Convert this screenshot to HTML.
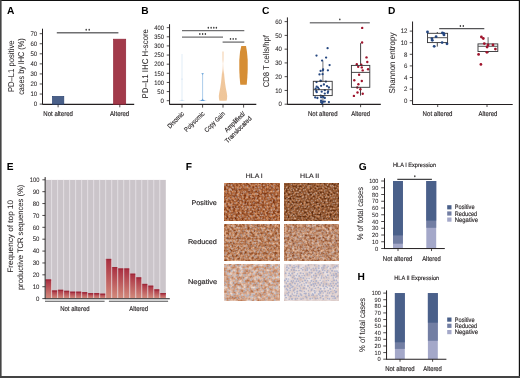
<!DOCTYPE html>
<html><head><meta charset="utf-8"><style>
html,body{margin:0;padding:0;background:#fff;}
svg{display:block;font-family:"Liberation Sans",sans-serif;will-change:transform;text-rendering:geometricPrecision;}
</style></head><body>
<svg width="520" height="378" viewBox="0 0 520 378">
<rect x="0" y="0" width="520" height="378" fill="#fff"/>
<text x="6.90" y="14.45" font-size="10.2" text-anchor="start" fill="#000" font-weight="bold">A</text>
<text x="141.20" y="14.30" font-size="10.2" text-anchor="start" fill="#000" font-weight="bold">B</text>
<text x="262.00" y="14.30" font-size="10.2" text-anchor="start" fill="#000" font-weight="bold">C</text>
<text x="387.90" y="14.30" font-size="10.2" text-anchor="start" fill="#000" font-weight="bold">D</text>
<text x="6.70" y="170.20" font-size="10.2" text-anchor="start" fill="#000" font-weight="bold">E</text>
<text x="185.80" y="170.20" font-size="10.2" text-anchor="start" fill="#000" font-weight="bold">F</text>
<text x="358.70" y="170.30" font-size="10.2" text-anchor="start" fill="#000" font-weight="bold">G</text>
<text x="357.60" y="279.60" font-size="10.2" text-anchor="start" fill="#000" font-weight="bold">H</text>
<line x1="42.50" y1="28.70" x2="42.50" y2="104.60" stroke="#231f20" stroke-width="1.0"/>
<line x1="39.70" y1="104.10" x2="42.50" y2="104.10" stroke="#231f20" stroke-width="0.8"/>
<text x="33.70" y="106.30" font-size="6.4" text-anchor="start" fill="#231f20" textLength="3.40" lengthAdjust="spacingAndGlyphs" stroke="#231f20" stroke-width="0.05">0</text>
<line x1="39.70" y1="94.04" x2="42.50" y2="94.04" stroke="#231f20" stroke-width="0.8"/>
<text x="30.40" y="96.24" font-size="6.4" text-anchor="start" fill="#231f20" textLength="6.70" lengthAdjust="spacingAndGlyphs" stroke="#231f20" stroke-width="0.05">10</text>
<line x1="39.70" y1="83.98" x2="42.50" y2="83.98" stroke="#231f20" stroke-width="0.8"/>
<text x="30.40" y="86.18" font-size="6.4" text-anchor="start" fill="#231f20" textLength="6.70" lengthAdjust="spacingAndGlyphs" stroke="#231f20" stroke-width="0.05">20</text>
<line x1="39.70" y1="73.92" x2="42.50" y2="73.92" stroke="#231f20" stroke-width="0.8"/>
<text x="30.40" y="76.12" font-size="6.4" text-anchor="start" fill="#231f20" textLength="6.70" lengthAdjust="spacingAndGlyphs" stroke="#231f20" stroke-width="0.05">30</text>
<line x1="39.70" y1="63.86" x2="42.50" y2="63.86" stroke="#231f20" stroke-width="0.8"/>
<text x="30.40" y="66.06" font-size="6.4" text-anchor="start" fill="#231f20" textLength="6.70" lengthAdjust="spacingAndGlyphs" stroke="#231f20" stroke-width="0.05">40</text>
<line x1="39.70" y1="53.80" x2="42.50" y2="53.80" stroke="#231f20" stroke-width="0.8"/>
<text x="30.40" y="56.00" font-size="6.4" text-anchor="start" fill="#231f20" textLength="6.70" lengthAdjust="spacingAndGlyphs" stroke="#231f20" stroke-width="0.05">50</text>
<line x1="39.70" y1="43.74" x2="42.50" y2="43.74" stroke="#231f20" stroke-width="0.8"/>
<text x="30.40" y="45.94" font-size="6.4" text-anchor="start" fill="#231f20" textLength="6.70" lengthAdjust="spacingAndGlyphs" stroke="#231f20" stroke-width="0.05">60</text>
<line x1="39.70" y1="33.68" x2="42.50" y2="33.68" stroke="#231f20" stroke-width="0.8"/>
<text x="30.40" y="35.88" font-size="6.4" text-anchor="start" fill="#231f20" textLength="6.70" lengthAdjust="spacingAndGlyphs" stroke="#231f20" stroke-width="0.05">70</text>
<line x1="42.50" y1="104.35" x2="134.20" y2="104.35" stroke="#231f20" stroke-width="1.1"/>
<line x1="58.10" y1="104.10" x2="58.10" y2="107.30" stroke="#231f20" stroke-width="0.8"/>
<line x1="119.80" y1="104.10" x2="119.80" y2="107.30" stroke="#231f20" stroke-width="0.8"/>
<rect x="52.50" y="96.40" width="11.30" height="7.80" fill="#4a6089" stroke="#2d4572" stroke-width="0.7"/>
<rect x="113.60" y="39.20" width="12.10" height="65.00" fill="#a23a4a" stroke="#92273a" stroke-width="0.7"/>
<line x1="56.80" y1="32.80" x2="118.40" y2="32.80" stroke="#6f6f71" stroke-width="1.4"/>
<ellipse cx="86.20" cy="29.80" rx="0.75" ry="0.95" fill="#3a3a3a"/>
<ellipse cx="89.20" cy="29.80" rx="0.75" ry="0.95" fill="#3a3a3a"/>
<text x="43.30" y="116.14" font-size="6.8" text-anchor="start" fill="#231f20" textLength="29.60" lengthAdjust="spacingAndGlyphs" stroke="#231f20" stroke-width="0.14">Not altered</text>
<text x="110.10" y="116.14" font-size="6.8" text-anchor="start" fill="#231f20" textLength="19.10" lengthAdjust="spacingAndGlyphs" stroke="#231f20" stroke-width="0.14">Altered</text>
<text transform="translate(14.40,92.10) rotate(-90)" font-size="8.4" text-anchor="start" fill="#231f20" textLength="51.60" lengthAdjust="spacingAndGlyphs" stroke="#231f20" stroke-width="0.04">PD–L1 positive</text>
<text transform="translate(24.20,94.80) rotate(-90)" font-size="8.4" text-anchor="start" fill="#231f20" textLength="56.40" lengthAdjust="spacingAndGlyphs" stroke="#231f20" stroke-width="0.04">cases by IHC (%)</text>
<line x1="169.55" y1="24.20" x2="169.55" y2="104.65" stroke="#231f20" stroke-width="1.0"/>
<line x1="166.75" y1="100.70" x2="169.55" y2="100.70" stroke="#231f20" stroke-width="0.8"/>
<text x="160.60" y="102.90" font-size="6.4" text-anchor="start" fill="#231f20" textLength="3.40" lengthAdjust="spacingAndGlyphs" stroke="#231f20" stroke-width="0.05">0</text>
<line x1="166.75" y1="91.57" x2="169.55" y2="91.57" stroke="#231f20" stroke-width="0.8"/>
<text x="157.30" y="93.77" font-size="6.4" text-anchor="start" fill="#231f20" textLength="6.70" lengthAdjust="spacingAndGlyphs" stroke="#231f20" stroke-width="0.05">50</text>
<line x1="166.75" y1="82.44" x2="169.55" y2="82.44" stroke="#231f20" stroke-width="0.8"/>
<text x="154.30" y="84.64" font-size="6.4" text-anchor="start" fill="#231f20" textLength="9.70" lengthAdjust="spacingAndGlyphs" stroke="#231f20" stroke-width="0.05">100</text>
<line x1="166.75" y1="73.31" x2="169.55" y2="73.31" stroke="#231f20" stroke-width="0.8"/>
<text x="154.30" y="75.51" font-size="6.4" text-anchor="start" fill="#231f20" textLength="9.70" lengthAdjust="spacingAndGlyphs" stroke="#231f20" stroke-width="0.05">150</text>
<line x1="166.75" y1="64.18" x2="169.55" y2="64.18" stroke="#231f20" stroke-width="0.8"/>
<text x="154.30" y="66.38" font-size="6.4" text-anchor="start" fill="#231f20" textLength="9.70" lengthAdjust="spacingAndGlyphs" stroke="#231f20" stroke-width="0.05">200</text>
<line x1="166.75" y1="55.05" x2="169.55" y2="55.05" stroke="#231f20" stroke-width="0.8"/>
<text x="154.30" y="57.25" font-size="6.4" text-anchor="start" fill="#231f20" textLength="9.70" lengthAdjust="spacingAndGlyphs" stroke="#231f20" stroke-width="0.05">250</text>
<line x1="166.75" y1="45.92" x2="169.55" y2="45.92" stroke="#231f20" stroke-width="0.8"/>
<text x="154.30" y="48.12" font-size="6.4" text-anchor="start" fill="#231f20" textLength="9.70" lengthAdjust="spacingAndGlyphs" stroke="#231f20" stroke-width="0.05">300</text>
<line x1="166.75" y1="36.79" x2="169.55" y2="36.79" stroke="#231f20" stroke-width="0.8"/>
<text x="154.30" y="38.99" font-size="6.4" text-anchor="start" fill="#231f20" textLength="9.70" lengthAdjust="spacingAndGlyphs" stroke="#231f20" stroke-width="0.05">350</text>
<line x1="166.75" y1="27.66" x2="169.55" y2="27.66" stroke="#231f20" stroke-width="0.8"/>
<text x="154.30" y="29.86" font-size="6.4" text-anchor="start" fill="#231f20" textLength="9.70" lengthAdjust="spacingAndGlyphs" stroke="#231f20" stroke-width="0.05">400</text>
<line x1="169.55" y1="104.40" x2="256.30" y2="104.40" stroke="#231f20" stroke-width="1.1"/>
<line x1="182.00" y1="104.40" x2="182.00" y2="107.60" stroke="#231f20" stroke-width="0.8"/>
<line x1="202.60" y1="104.40" x2="202.60" y2="107.60" stroke="#231f20" stroke-width="0.8"/>
<line x1="223.00" y1="104.40" x2="223.00" y2="107.60" stroke="#231f20" stroke-width="0.8"/>
<line x1="243.60" y1="104.40" x2="243.60" y2="107.60" stroke="#231f20" stroke-width="0.8"/>
<line x1="182.00" y1="30.60" x2="244.30" y2="30.60" stroke="#6f6f71" stroke-width="1.3"/>
<line x1="182.00" y1="37.10" x2="223.00" y2="37.10" stroke="#6f6f71" stroke-width="1.3"/>
<line x1="222.60" y1="42.10" x2="244.30" y2="42.10" stroke="#6f6f71" stroke-width="1.3"/>
<ellipse cx="208.30" cy="27.75" rx="0.75" ry="0.95" fill="#3a3a3a"/>
<ellipse cx="211.10" cy="27.75" rx="0.75" ry="0.95" fill="#3a3a3a"/>
<ellipse cx="213.80" cy="27.75" rx="0.75" ry="0.95" fill="#3a3a3a"/>
<ellipse cx="216.40" cy="27.75" rx="0.75" ry="0.95" fill="#3a3a3a"/>
<ellipse cx="199.80" cy="34.00" rx="0.75" ry="0.95" fill="#3a3a3a"/>
<ellipse cx="202.60" cy="34.00" rx="0.75" ry="0.95" fill="#3a3a3a"/>
<ellipse cx="205.40" cy="34.00" rx="0.75" ry="0.95" fill="#3a3a3a"/>
<ellipse cx="230.50" cy="38.90" rx="0.75" ry="0.95" fill="#3a3a3a"/>
<ellipse cx="233.20" cy="38.90" rx="0.75" ry="0.95" fill="#3a3a3a"/>
<ellipse cx="235.90" cy="38.90" rx="0.75" ry="0.95" fill="#3a3a3a"/>
<line x1="182.00" y1="54.00" x2="182.00" y2="100.50" stroke="#cfe0f2" stroke-width="0.6"/>
<path d="M178.3,101.0 Q182.0,100.6 182.0,99.3 Q182.0,100.6 185.8,101.0 Z" fill="#c9dcf0"/>
<circle cx="182.00" cy="79.10" r="0.55" fill="#cbdcf0"/>
<line x1="202.60" y1="74.00" x2="202.60" y2="100.50" stroke="#7fb0de" stroke-width="0.65"/>
<path d="M201.3,72.9 L203.9,72.9 L202.6,75.2 Z" fill="#7fb0de"/>
<path d="M198.0,101.0 Q202.6,100.4 202.6,98.2 Q202.6,100.4 207.2,101.0 Z" fill="#5f9ad6"/>
<defs><linearGradient id="cg" gradientUnits="userSpaceOnUse" x1="0" y1="51.6" x2="0" y2="100.7"><stop offset="0" stop-color="#f2cba4"/><stop offset="0.17" stop-color="#f5d8bc"/><stop offset="0.24" stop-color="#fdf3ea"/><stop offset="0.35" stop-color="#fae6d4"/><stop offset="0.46" stop-color="#f0c79d"/><stop offset="1" stop-color="#efc69a"/></linearGradient></defs>
<path d="M223.50,51.60 L223.60,60.00 L223.65,66.00 L223.80,70.00 L224.30,76.00 L224.90,82.00 L225.80,88.00 L226.80,93.00 L227.20,96.00 L227.00,99.00 L226.50,100.70 L219.50,100.70 L219.00,99.00 L218.80,96.00 L219.20,93.00 L220.20,88.00 L221.10,82.00 L221.70,76.00 L222.20,70.00 L222.35,66.00 L222.40,60.00 L222.50,51.60 Z" fill="url(#cg)"/>
<path d="M241.3,46 L246.0,46 L247.0,52 L247.7,60 L247.7,70 L247.3,78 L246.7,84.8 L240.3,84.8 L239.7,78 L239.3,70 L239.3,60 L240.0,52 Z" fill="#d68e35"/>
<text transform="translate(184.60,114.20) rotate(-45)" font-size="6.6" text-anchor="end" fill="#231f20" textLength="20.50" lengthAdjust="spacingAndGlyphs" stroke="#231f20" stroke-width="0.14">Disomic</text>
<text transform="translate(204.90,114.20) rotate(-45)" font-size="6.6" text-anchor="end" fill="#231f20" textLength="25.50" lengthAdjust="spacingAndGlyphs" stroke="#231f20" stroke-width="0.14">Polysomic</text>
<text transform="translate(225.40,114.20) rotate(-45)" font-size="6.6" text-anchor="end" fill="#231f20" textLength="26.10" lengthAdjust="spacingAndGlyphs" stroke="#231f20" stroke-width="0.14">Copy Gain</text>
<text transform="translate(245.60,114.20) rotate(-45)" font-size="6.6" text-anchor="end" fill="#231f20" textLength="26.40" lengthAdjust="spacingAndGlyphs" stroke="#231f20" stroke-width="0.14">Amplified/</text>
<text transform="translate(252.00,119.00) rotate(-45)" font-size="6.6" text-anchor="end" fill="#231f20" textLength="34.50" lengthAdjust="spacingAndGlyphs" stroke="#231f20" stroke-width="0.14">Translocated</text>
<text transform="translate(147.70,98.40) rotate(-90)" font-size="8.4" text-anchor="start" fill="#231f20" textLength="69.40" lengthAdjust="spacingAndGlyphs" stroke="#231f20" stroke-width="0.04">PD–L1 IHC H-score</text>
<line x1="287.40" y1="17.40" x2="287.40" y2="104.80" stroke="#231f20" stroke-width="1.0"/>
<line x1="284.60" y1="104.20" x2="287.40" y2="104.20" stroke="#231f20" stroke-width="0.8"/>
<text x="278.50" y="106.40" font-size="6.4" text-anchor="start" fill="#231f20" textLength="3.40" lengthAdjust="spacingAndGlyphs" stroke="#231f20" stroke-width="0.05">0</text>
<line x1="284.60" y1="90.44" x2="287.40" y2="90.44" stroke="#231f20" stroke-width="0.8"/>
<text x="275.20" y="92.64" font-size="6.4" text-anchor="start" fill="#231f20" textLength="6.70" lengthAdjust="spacingAndGlyphs" stroke="#231f20" stroke-width="0.05">10</text>
<line x1="284.60" y1="76.68" x2="287.40" y2="76.68" stroke="#231f20" stroke-width="0.8"/>
<text x="275.20" y="78.88" font-size="6.4" text-anchor="start" fill="#231f20" textLength="6.70" lengthAdjust="spacingAndGlyphs" stroke="#231f20" stroke-width="0.05">20</text>
<line x1="284.60" y1="62.92" x2="287.40" y2="62.92" stroke="#231f20" stroke-width="0.8"/>
<text x="275.20" y="65.12" font-size="6.4" text-anchor="start" fill="#231f20" textLength="6.70" lengthAdjust="spacingAndGlyphs" stroke="#231f20" stroke-width="0.05">30</text>
<line x1="284.60" y1="49.16" x2="287.40" y2="49.16" stroke="#231f20" stroke-width="0.8"/>
<text x="275.20" y="51.36" font-size="6.4" text-anchor="start" fill="#231f20" textLength="6.70" lengthAdjust="spacingAndGlyphs" stroke="#231f20" stroke-width="0.05">40</text>
<line x1="284.60" y1="35.40" x2="287.40" y2="35.40" stroke="#231f20" stroke-width="0.8"/>
<text x="275.20" y="37.60" font-size="6.4" text-anchor="start" fill="#231f20" textLength="6.70" lengthAdjust="spacingAndGlyphs" stroke="#231f20" stroke-width="0.05">50</text>
<line x1="284.60" y1="21.64" x2="287.40" y2="21.64" stroke="#231f20" stroke-width="0.8"/>
<text x="275.20" y="23.84" font-size="6.4" text-anchor="start" fill="#231f20" textLength="6.70" lengthAdjust="spacingAndGlyphs" stroke="#231f20" stroke-width="0.05">60</text>
<line x1="287.40" y1="104.40" x2="380.80" y2="104.40" stroke="#231f20" stroke-width="1.1"/>
<line x1="322.80" y1="104.30" x2="322.80" y2="107.20" stroke="#231f20" stroke-width="0.8"/>
<line x1="360.60" y1="104.30" x2="360.60" y2="107.20" stroke="#231f20" stroke-width="0.8"/>
<line x1="309.80" y1="22.80" x2="369.80" y2="22.80" stroke="#808082" stroke-width="1.5"/>
<ellipse cx="339.80" cy="19.40" rx="0.75" ry="0.95" fill="#3a3a3a"/>
<line x1="322.90" y1="61.10" x2="322.90" y2="81.30" stroke="#77777a" stroke-width="1.0"/>
<line x1="322.90" y1="95.60" x2="322.90" y2="103.00" stroke="#77777a" stroke-width="1.0"/>
<circle cx="327.60" cy="48.20" r="1.15" fill="#24467f"/>
<circle cx="316.50" cy="55.60" r="1.15" fill="#24467f"/>
<circle cx="326.10" cy="57.60" r="1.15" fill="#24467f"/>
<circle cx="322.10" cy="60.60" r="1.15" fill="#24467f"/>
<circle cx="329.60" cy="65.10" r="1.15" fill="#24467f"/>
<circle cx="323.10" cy="69.30" r="1.15" fill="#24467f"/>
<circle cx="322.90" cy="70.30" r="1.15" fill="#24467f"/>
<circle cx="320.60" cy="70.90" r="1.15" fill="#24467f"/>
<circle cx="327.90" cy="70.30" r="1.15" fill="#24467f"/>
<circle cx="319.50" cy="74.40" r="1.15" fill="#24467f"/>
<circle cx="322.60" cy="74.20" r="1.15" fill="#24467f"/>
<circle cx="320.60" cy="80.70" r="1.15" fill="#24467f"/>
<circle cx="316.50" cy="82.10" r="1.15" fill="#24467f"/>
<circle cx="320.70" cy="81.10" r="1.15" fill="#24467f"/>
<circle cx="325.90" cy="81.60" r="1.15" fill="#24467f"/>
<circle cx="323.90" cy="84.50" r="1.15" fill="#24467f"/>
<circle cx="321.10" cy="85.80" r="1.15" fill="#24467f"/>
<circle cx="316.70" cy="86.70" r="1.15" fill="#24467f"/>
<circle cx="318.00" cy="87.60" r="1.15" fill="#24467f"/>
<circle cx="327.00" cy="86.10" r="1.15" fill="#24467f"/>
<circle cx="328.90" cy="87.50" r="1.15" fill="#24467f"/>
<circle cx="315.60" cy="88.70" r="1.15" fill="#24467f"/>
<circle cx="318.90" cy="89.10" r="1.15" fill="#24467f"/>
<circle cx="316.30" cy="91.00" r="1.15" fill="#24467f"/>
<circle cx="321.70" cy="91.70" r="1.15" fill="#24467f"/>
<circle cx="324.80" cy="90.20" r="1.15" fill="#24467f"/>
<circle cx="328.10" cy="91.30" r="1.15" fill="#24467f"/>
<circle cx="316.70" cy="92.20" r="1.15" fill="#24467f"/>
<circle cx="324.80" cy="93.60" r="1.15" fill="#24467f"/>
<circle cx="327.80" cy="92.80" r="1.15" fill="#24467f"/>
<circle cx="320.70" cy="95.60" r="1.15" fill="#24467f"/>
<circle cx="322.60" cy="96.10" r="1.15" fill="#24467f"/>
<circle cx="315.20" cy="97.40" r="1.15" fill="#24467f"/>
<circle cx="317.40" cy="98.00" r="1.15" fill="#24467f"/>
<circle cx="321.10" cy="97.30" r="1.15" fill="#24467f"/>
<circle cx="323.30" cy="97.10" r="1.15" fill="#24467f"/>
<circle cx="324.80" cy="98.00" r="1.15" fill="#24467f"/>
<circle cx="321.10" cy="100.60" r="1.15" fill="#24467f"/>
<circle cx="321.00" cy="102.10" r="1.15" fill="#24467f"/>
<circle cx="323.00" cy="101.70" r="1.15" fill="#24467f"/>
<circle cx="324.80" cy="101.60" r="1.15" fill="#24467f"/>
<circle cx="328.90" cy="102.10" r="1.15" fill="#24467f"/>
<circle cx="322.20" cy="103.20" r="1.15" fill="#24467f"/>
<rect x="313.30" y="81.30" width="18.90" height="14.30" fill="none" stroke="#333335" stroke-width="0.9"/>
<line x1="313.30" y1="89.70" x2="332.20" y2="89.70" stroke="#333335" stroke-width="0.9"/>
<line x1="360.60" y1="43.10" x2="360.60" y2="65.40" stroke="#444446" stroke-width="1.0"/>
<line x1="360.50" y1="87.30" x2="360.50" y2="95.60" stroke="#444446" stroke-width="1.0"/>
<circle cx="362.20" cy="27.90" r="1.2" fill="#a0142c"/>
<circle cx="362.10" cy="42.50" r="1.2" fill="#a0142c"/>
<circle cx="366.50" cy="57.40" r="1.2" fill="#a0142c"/>
<circle cx="367.30" cy="62.00" r="1.2" fill="#a0142c"/>
<circle cx="356.80" cy="64.30" r="1.2" fill="#a0142c"/>
<circle cx="361.30" cy="64.70" r="1.2" fill="#a0142c"/>
<circle cx="358.20" cy="66.70" r="1.2" fill="#a0142c"/>
<circle cx="361.80" cy="67.40" r="1.2" fill="#a0142c"/>
<circle cx="362.70" cy="70.40" r="1.2" fill="#a0142c"/>
<circle cx="368.10" cy="69.20" r="1.2" fill="#a0142c"/>
<circle cx="359.10" cy="74.70" r="1.2" fill="#a0142c"/>
<circle cx="354.30" cy="80.30" r="1.2" fill="#a0142c"/>
<circle cx="361.80" cy="81.00" r="1.2" fill="#a0142c"/>
<circle cx="358.40" cy="84.20" r="1.2" fill="#a0142c"/>
<circle cx="357.30" cy="87.50" r="1.2" fill="#a0142c"/>
<circle cx="360.40" cy="89.30" r="1.2" fill="#a0142c"/>
<circle cx="357.50" cy="92.50" r="1.2" fill="#a0142c"/>
<circle cx="362.70" cy="93.80" r="1.2" fill="#a0142c"/>
<circle cx="353.90" cy="95.90" r="1.2" fill="#a0142c"/>
<rect x="351.40" y="65.40" width="18.40" height="21.90" fill="none" stroke="#333335" stroke-width="0.9"/>
<line x1="351.40" y1="72.40" x2="369.80" y2="72.40" stroke="#333335" stroke-width="0.9"/>
<text x="308.00" y="115.84" font-size="6.8" text-anchor="start" fill="#231f20" textLength="29.50" lengthAdjust="spacingAndGlyphs" stroke="#231f20" stroke-width="0.14">Not altered</text>
<text x="351.30" y="115.84" font-size="6.8" text-anchor="start" fill="#231f20" textLength="18.70" lengthAdjust="spacingAndGlyphs" stroke="#231f20" stroke-width="0.14">Altered</text>
<text transform="translate(268.90,87.20) rotate(-90)" font-size="8.4" text-anchor="start" fill="#231f20" textLength="52.00" lengthAdjust="spacingAndGlyphs" stroke="#231f20" stroke-width="0.04">CD8 T cells/hpf</text>
<line x1="412.55" y1="21.50" x2="412.55" y2="104.65" stroke="#231f20" stroke-width="1.0"/>
<line x1="409.75" y1="100.70" x2="412.55" y2="100.70" stroke="#231f20" stroke-width="0.8"/>
<text x="404.00" y="102.90" font-size="6.4" text-anchor="start" fill="#231f20" textLength="3.40" lengthAdjust="spacingAndGlyphs" stroke="#231f20" stroke-width="0.05">0</text>
<line x1="409.75" y1="89.10" x2="412.55" y2="89.10" stroke="#231f20" stroke-width="0.8"/>
<text x="404.00" y="91.30" font-size="6.4" text-anchor="start" fill="#231f20" textLength="3.40" lengthAdjust="spacingAndGlyphs" stroke="#231f20" stroke-width="0.05">2</text>
<line x1="409.75" y1="77.50" x2="412.55" y2="77.50" stroke="#231f20" stroke-width="0.8"/>
<text x="404.00" y="79.70" font-size="6.4" text-anchor="start" fill="#231f20" textLength="3.40" lengthAdjust="spacingAndGlyphs" stroke="#231f20" stroke-width="0.05">4</text>
<line x1="409.75" y1="65.90" x2="412.55" y2="65.90" stroke="#231f20" stroke-width="0.8"/>
<text x="404.00" y="68.10" font-size="6.4" text-anchor="start" fill="#231f20" textLength="3.40" lengthAdjust="spacingAndGlyphs" stroke="#231f20" stroke-width="0.05">6</text>
<line x1="409.75" y1="54.30" x2="412.55" y2="54.30" stroke="#231f20" stroke-width="0.8"/>
<text x="404.00" y="56.50" font-size="6.4" text-anchor="start" fill="#231f20" textLength="3.40" lengthAdjust="spacingAndGlyphs" stroke="#231f20" stroke-width="0.05">8</text>
<line x1="409.75" y1="42.70" x2="412.55" y2="42.70" stroke="#231f20" stroke-width="0.8"/>
<text x="400.70" y="44.90" font-size="6.4" text-anchor="start" fill="#231f20" textLength="6.70" lengthAdjust="spacingAndGlyphs" stroke="#231f20" stroke-width="0.05">10</text>
<line x1="409.75" y1="31.10" x2="412.55" y2="31.10" stroke="#231f20" stroke-width="0.8"/>
<text x="400.70" y="33.30" font-size="6.4" text-anchor="start" fill="#231f20" textLength="6.70" lengthAdjust="spacingAndGlyphs" stroke="#231f20" stroke-width="0.05">12</text>
<line x1="412.55" y1="104.45" x2="512.70" y2="104.45" stroke="#231f20" stroke-width="1.1"/>
<line x1="437.70" y1="104.15" x2="437.70" y2="107.00" stroke="#231f20" stroke-width="0.8"/>
<line x1="487.00" y1="104.15" x2="487.00" y2="107.00" stroke="#231f20" stroke-width="0.8"/>
<line x1="439.20" y1="28.65" x2="484.30" y2="28.65" stroke="#555557" stroke-width="1.3"/>
<ellipse cx="460.40" cy="26.00" rx="0.75" ry="0.95" fill="#3a3a3a"/>
<ellipse cx="463.30" cy="26.00" rx="0.75" ry="0.95" fill="#3a3a3a"/>
<line x1="437.30" y1="32.00" x2="437.30" y2="33.30" stroke="#333335" stroke-width="0.9"/>
<line x1="437.30" y1="42.60" x2="437.30" y2="46.60" stroke="#333335" stroke-width="0.9"/>
<rect x="427.50" y="33.30" width="20.10" height="9.30" fill="none" stroke="#333335" stroke-width="0.9"/>
<line x1="427.50" y1="37.70" x2="447.60" y2="37.70" stroke="#555557" stroke-width="1.0"/>
<circle cx="427.50" cy="32.00" r="1.4" fill="#24467f"/>
<circle cx="442.40" cy="32.90" r="1.4" fill="#24467f"/>
<circle cx="443.70" cy="33.50" r="1.4" fill="#24467f"/>
<circle cx="444.00" cy="34.90" r="1.4" fill="#24467f"/>
<circle cx="436.10" cy="36.70" r="1.4" fill="#24467f"/>
<circle cx="431.90" cy="38.70" r="1.4" fill="#24467f"/>
<circle cx="432.30" cy="40.30" r="1.4" fill="#24467f"/>
<circle cx="442.10" cy="42.60" r="1.4" fill="#24467f"/>
<circle cx="447.00" cy="43.80" r="1.4" fill="#24467f"/>
<circle cx="434.20" cy="46.30" r="1.4" fill="#24467f"/>
<line x1="488.10" y1="37.20" x2="488.10" y2="43.90" stroke="#555557" stroke-width="0.9"/>
<line x1="488.10" y1="51.50" x2="488.10" y2="53.10" stroke="#555557" stroke-width="0.9"/>
<rect x="478.00" y="43.90" width="19.80" height="7.60" fill="none" stroke="#333335" stroke-width="0.9"/>
<line x1="478.00" y1="46.30" x2="497.80" y2="46.30" stroke="#555557" stroke-width="1.0"/>
<circle cx="481.40" cy="37.00" r="1.4" fill="#a0142c"/>
<circle cx="483.30" cy="38.50" r="1.4" fill="#a0142c"/>
<circle cx="484.30" cy="43.60" r="1.4" fill="#a0142c"/>
<circle cx="488.10" cy="44.90" r="1.4" fill="#a0142c"/>
<circle cx="493.00" cy="44.90" r="1.4" fill="#a0142c"/>
<circle cx="487.10" cy="47.00" r="1.4" fill="#a0142c"/>
<circle cx="495.40" cy="49.10" r="1.4" fill="#a0142c"/>
<circle cx="486.90" cy="52.30" r="1.4" fill="#a0142c"/>
<circle cx="478.60" cy="54.40" r="1.4" fill="#a0142c"/>
<circle cx="480.90" cy="64.40" r="1.4" fill="#a0142c"/>
<text x="422.60" y="116.34" font-size="6.8" text-anchor="start" fill="#231f20" textLength="29.90" lengthAdjust="spacingAndGlyphs" stroke="#231f20" stroke-width="0.14">Not altered</text>
<text x="478.50" y="116.34" font-size="6.8" text-anchor="start" fill="#231f20" textLength="18.90" lengthAdjust="spacingAndGlyphs" stroke="#231f20" stroke-width="0.14">Altered</text>
<text transform="translate(394.60,93.40) rotate(-90)" font-size="8.4" text-anchor="start" fill="#231f20" textLength="60.80" lengthAdjust="spacingAndGlyphs" stroke="#231f20" stroke-width="0.04">Shannon entropy</text>
<defs><linearGradient id="eg" x1="0" y1="0" x2="0" y2="1"><stop offset="0" stop-color="#a82e40"/><stop offset="1" stop-color="#d28a7c"/></linearGradient></defs>
<rect x="45.70" y="179.90" width="120.10" height="118.30" fill="#cbc5ca"/>
<rect x="45.60" y="279.50" width="6.01" height="18.70" fill="url(#eg)"/>
<rect x="45.60" y="279.50" width="6.01" height="1.20" fill="#9e2a3a"/>
<rect x="51.61" y="290.50" width="6.01" height="7.70" fill="url(#eg)"/>
<rect x="51.61" y="290.50" width="6.01" height="1.20" fill="#9e2a3a"/>
<rect x="57.62" y="289.80" width="6.01" height="8.40" fill="url(#eg)"/>
<rect x="57.62" y="289.80" width="6.01" height="1.20" fill="#9e2a3a"/>
<rect x="63.63" y="290.80" width="6.01" height="7.40" fill="url(#eg)"/>
<rect x="63.63" y="290.80" width="6.01" height="1.20" fill="#9e2a3a"/>
<rect x="69.64" y="291.70" width="6.01" height="6.50" fill="url(#eg)"/>
<rect x="69.64" y="291.70" width="6.01" height="1.20" fill="#9e2a3a"/>
<rect x="75.65" y="291.70" width="6.01" height="6.50" fill="url(#eg)"/>
<rect x="75.65" y="291.70" width="6.01" height="1.20" fill="#9e2a3a"/>
<rect x="81.66" y="292.20" width="6.01" height="6.00" fill="url(#eg)"/>
<rect x="81.66" y="292.20" width="6.01" height="1.20" fill="#9e2a3a"/>
<rect x="87.67" y="293.10" width="6.01" height="5.10" fill="url(#eg)"/>
<rect x="87.67" y="293.10" width="6.01" height="1.20" fill="#9e2a3a"/>
<rect x="93.68" y="293.10" width="6.01" height="5.10" fill="url(#eg)"/>
<rect x="93.68" y="293.10" width="6.01" height="1.20" fill="#9e2a3a"/>
<rect x="99.69" y="293.70" width="6.01" height="4.50" fill="url(#eg)"/>
<rect x="99.69" y="293.70" width="6.01" height="1.20" fill="#9e2a3a"/>
<rect x="105.70" y="258.90" width="6.01" height="39.30" fill="url(#eg)"/>
<rect x="105.70" y="258.90" width="6.01" height="1.20" fill="#9e2a3a"/>
<rect x="111.71" y="267.00" width="6.01" height="31.20" fill="url(#eg)"/>
<rect x="111.71" y="267.00" width="6.01" height="1.20" fill="#9e2a3a"/>
<rect x="117.72" y="268.50" width="6.01" height="29.70" fill="url(#eg)"/>
<rect x="117.72" y="268.50" width="6.01" height="1.20" fill="#9e2a3a"/>
<rect x="123.73" y="268.50" width="6.01" height="29.70" fill="url(#eg)"/>
<rect x="123.73" y="268.50" width="6.01" height="1.20" fill="#9e2a3a"/>
<rect x="129.74" y="273.70" width="6.01" height="24.50" fill="url(#eg)"/>
<rect x="129.74" y="273.70" width="6.01" height="1.20" fill="#9e2a3a"/>
<rect x="135.75" y="277.40" width="6.01" height="20.80" fill="url(#eg)"/>
<rect x="135.75" y="277.40" width="6.01" height="1.20" fill="#9e2a3a"/>
<rect x="141.76" y="283.90" width="6.01" height="14.30" fill="url(#eg)"/>
<rect x="141.76" y="283.90" width="6.01" height="1.20" fill="#9e2a3a"/>
<rect x="147.77" y="285.70" width="6.01" height="12.50" fill="url(#eg)"/>
<rect x="147.77" y="285.70" width="6.01" height="1.20" fill="#9e2a3a"/>
<rect x="153.78" y="289.40" width="6.01" height="8.80" fill="url(#eg)"/>
<rect x="153.78" y="289.40" width="6.01" height="1.20" fill="#9e2a3a"/>
<rect x="159.79" y="293.00" width="6.01" height="5.20" fill="url(#eg)"/>
<rect x="159.79" y="293.00" width="6.01" height="1.20" fill="#9e2a3a"/>
<line x1="51.61" y1="179.90" x2="51.61" y2="298.20" stroke="#eeeaee" stroke-width="0.7"/>
<line x1="57.62" y1="179.90" x2="57.62" y2="298.20" stroke="#eeeaee" stroke-width="0.7"/>
<line x1="63.63" y1="179.90" x2="63.63" y2="298.20" stroke="#eeeaee" stroke-width="0.7"/>
<line x1="69.64" y1="179.90" x2="69.64" y2="298.20" stroke="#eeeaee" stroke-width="0.7"/>
<line x1="75.65" y1="179.90" x2="75.65" y2="298.20" stroke="#eeeaee" stroke-width="0.7"/>
<line x1="81.66" y1="179.90" x2="81.66" y2="298.20" stroke="#eeeaee" stroke-width="0.7"/>
<line x1="87.67" y1="179.90" x2="87.67" y2="298.20" stroke="#eeeaee" stroke-width="0.7"/>
<line x1="93.68" y1="179.90" x2="93.68" y2="298.20" stroke="#eeeaee" stroke-width="0.7"/>
<line x1="99.69" y1="179.90" x2="99.69" y2="298.20" stroke="#eeeaee" stroke-width="0.7"/>
<line x1="105.70" y1="179.90" x2="105.70" y2="298.20" stroke="#eeeaee" stroke-width="0.7"/>
<line x1="111.71" y1="179.90" x2="111.71" y2="298.20" stroke="#eeeaee" stroke-width="0.7"/>
<line x1="117.72" y1="179.90" x2="117.72" y2="298.20" stroke="#eeeaee" stroke-width="0.7"/>
<line x1="123.73" y1="179.90" x2="123.73" y2="298.20" stroke="#eeeaee" stroke-width="0.7"/>
<line x1="129.74" y1="179.90" x2="129.74" y2="298.20" stroke="#eeeaee" stroke-width="0.7"/>
<line x1="135.75" y1="179.90" x2="135.75" y2="298.20" stroke="#eeeaee" stroke-width="0.7"/>
<line x1="141.76" y1="179.90" x2="141.76" y2="298.20" stroke="#eeeaee" stroke-width="0.7"/>
<line x1="147.77" y1="179.90" x2="147.77" y2="298.20" stroke="#eeeaee" stroke-width="0.7"/>
<line x1="153.78" y1="179.90" x2="153.78" y2="298.20" stroke="#eeeaee" stroke-width="0.7"/>
<line x1="159.79" y1="179.90" x2="159.79" y2="298.20" stroke="#eeeaee" stroke-width="0.7"/>
<line x1="45.15" y1="177.10" x2="45.15" y2="299.10" stroke="#231f20" stroke-width="1.0"/>
<line x1="42.35" y1="298.60" x2="45.15" y2="298.60" stroke="#231f20" stroke-width="0.8"/>
<text x="36.00" y="300.80" font-size="6.4" text-anchor="start" fill="#231f20" textLength="3.40" lengthAdjust="spacingAndGlyphs" stroke="#231f20" stroke-width="0.05">0</text>
<line x1="42.35" y1="286.72" x2="45.15" y2="286.72" stroke="#231f20" stroke-width="0.8"/>
<text x="32.70" y="288.92" font-size="6.4" text-anchor="start" fill="#231f20" textLength="6.70" lengthAdjust="spacingAndGlyphs" stroke="#231f20" stroke-width="0.05">10</text>
<line x1="42.35" y1="274.84" x2="45.15" y2="274.84" stroke="#231f20" stroke-width="0.8"/>
<text x="32.70" y="277.04" font-size="6.4" text-anchor="start" fill="#231f20" textLength="6.70" lengthAdjust="spacingAndGlyphs" stroke="#231f20" stroke-width="0.05">20</text>
<line x1="42.35" y1="262.96" x2="45.15" y2="262.96" stroke="#231f20" stroke-width="0.8"/>
<text x="32.70" y="265.16" font-size="6.4" text-anchor="start" fill="#231f20" textLength="6.70" lengthAdjust="spacingAndGlyphs" stroke="#231f20" stroke-width="0.05">30</text>
<line x1="42.35" y1="251.08" x2="45.15" y2="251.08" stroke="#231f20" stroke-width="0.8"/>
<text x="32.70" y="253.28" font-size="6.4" text-anchor="start" fill="#231f20" textLength="6.70" lengthAdjust="spacingAndGlyphs" stroke="#231f20" stroke-width="0.05">40</text>
<line x1="42.35" y1="239.20" x2="45.15" y2="239.20" stroke="#231f20" stroke-width="0.8"/>
<text x="32.70" y="241.40" font-size="6.4" text-anchor="start" fill="#231f20" textLength="6.70" lengthAdjust="spacingAndGlyphs" stroke="#231f20" stroke-width="0.05">50</text>
<line x1="42.35" y1="227.32" x2="45.15" y2="227.32" stroke="#231f20" stroke-width="0.8"/>
<text x="32.70" y="229.52" font-size="6.4" text-anchor="start" fill="#231f20" textLength="6.70" lengthAdjust="spacingAndGlyphs" stroke="#231f20" stroke-width="0.05">60</text>
<line x1="42.35" y1="215.44" x2="45.15" y2="215.44" stroke="#231f20" stroke-width="0.8"/>
<text x="32.70" y="217.64" font-size="6.4" text-anchor="start" fill="#231f20" textLength="6.70" lengthAdjust="spacingAndGlyphs" stroke="#231f20" stroke-width="0.05">70</text>
<line x1="42.35" y1="203.56" x2="45.15" y2="203.56" stroke="#231f20" stroke-width="0.8"/>
<text x="32.70" y="205.76" font-size="6.4" text-anchor="start" fill="#231f20" textLength="6.70" lengthAdjust="spacingAndGlyphs" stroke="#231f20" stroke-width="0.05">80</text>
<line x1="42.35" y1="191.68" x2="45.15" y2="191.68" stroke="#231f20" stroke-width="0.8"/>
<text x="32.70" y="193.88" font-size="6.4" text-anchor="start" fill="#231f20" textLength="6.70" lengthAdjust="spacingAndGlyphs" stroke="#231f20" stroke-width="0.05">90</text>
<line x1="42.35" y1="179.80" x2="45.15" y2="179.80" stroke="#231f20" stroke-width="0.8"/>
<text x="29.70" y="182.00" font-size="6.4" text-anchor="start" fill="#231f20" textLength="9.70" lengthAdjust="spacingAndGlyphs" stroke="#231f20" stroke-width="0.05">100</text>
<line x1="45.15" y1="298.80" x2="169.80" y2="298.80" stroke="#231f20" stroke-width="1.1"/>
<line x1="45.00" y1="301.30" x2="104.60" y2="301.30" stroke="#505052" stroke-width="1.1"/>
<line x1="108.90" y1="301.30" x2="168.10" y2="301.30" stroke="#505052" stroke-width="1.1"/>
<text x="60.20" y="311.04" font-size="6.8" text-anchor="start" fill="#231f20" textLength="29.40" lengthAdjust="spacingAndGlyphs" stroke="#231f20" stroke-width="0.14">Not altered</text>
<text x="129.30" y="311.04" font-size="6.8" text-anchor="start" fill="#231f20" textLength="18.80" lengthAdjust="spacingAndGlyphs" stroke="#231f20" stroke-width="0.14">Altered</text>
<text transform="translate(13.40,272.80) rotate(-90)" font-size="7.9" text-anchor="start" fill="#231f20" textLength="72.90" lengthAdjust="spacingAndGlyphs" stroke="#231f20" stroke-width="0.04">Frequency of top 10</text>
<text transform="translate(23.30,290.10) rotate(-90)" font-size="7.9" text-anchor="start" fill="#231f20" textLength="105.30" lengthAdjust="spacingAndGlyphs" stroke="#231f20" stroke-width="0.04">productive TCR sequences (%)</text>
<text x="245.80" y="177.57" font-size="6.3" text-anchor="start" fill="#231f20" textLength="16.90" lengthAdjust="spacingAndGlyphs" stroke="#231f20" stroke-width="0.14">HLA I</text>
<text x="300.10" y="177.57" font-size="6.3" text-anchor="start" fill="#231f20" textLength="19.10" lengthAdjust="spacingAndGlyphs" stroke="#231f20" stroke-width="0.14">HLA II</text>
<text x="191.50" y="205.44" font-size="6.8" text-anchor="start" fill="#231f20" textLength="25.40" lengthAdjust="spacingAndGlyphs" stroke="#231f20" stroke-width="0.14">Positive</text>
<text x="187.90" y="244.44" font-size="6.8" text-anchor="start" fill="#231f20" textLength="29.00" lengthAdjust="spacingAndGlyphs" stroke="#231f20" stroke-width="0.14">Reduced</text>
<text x="187.90" y="283.94" font-size="6.8" text-anchor="start" fill="#231f20" textLength="29.30" lengthAdjust="spacingAndGlyphs" stroke="#231f20" stroke-width="0.14">Negative</text>
<filter id="tx1" x="224.30" y="183.60" width="55.00" height="36.80" filterUnits="userSpaceOnUse" primitiveUnits="userSpaceOnUse" color-interpolation-filters="sRGB"><feTurbulence type="fractalNoise" baseFrequency="0.45" numOctaves="2" seed="3"/><feColorMatrix type="matrix" values="0.626 0 0 0 0.346 0.656 0 0 0 0.056 0.581 0 0 0 -0.067 0 0 0 0 1"/></filter>
<rect x="224.30" y="183.60" width="55.00" height="36.80" fill="#000" filter="url(#tx1)"/>
<g opacity="0.5"><circle cx="225.2" cy="185.1" r="0.98" fill="#c0bcc6"/><circle cx="228.8" cy="185.0" r="0.88" fill="#c0bcc6"/><circle cx="231.7" cy="185.0" r="0.89" fill="#c0bcc6"/><circle cx="243.5" cy="185.4" r="0.71" fill="#c0bcc6"/><circle cx="247.4" cy="186.0" r="0.90" fill="#c0bcc6"/><circle cx="250.1" cy="184.3" r="0.70" fill="#c0bcc6"/><circle cx="256.2" cy="184.5" r="0.71" fill="#c0bcc6"/><circle cx="260.3" cy="184.9" r="0.95" fill="#c0bcc6"/><circle cx="263.9" cy="185.3" r="0.85" fill="#c0bcc6"/><circle cx="267.7" cy="184.9" r="0.78" fill="#c0bcc6"/><circle cx="271.9" cy="186.0" r="0.95" fill="#c0bcc6"/><circle cx="274.8" cy="184.6" r="0.77" fill="#c0bcc6"/><circle cx="227.7" cy="187.8" r="0.95" fill="#c0bcc6"/><circle cx="230.4" cy="189.0" r="0.95" fill="#c0bcc6"/><circle cx="233.1" cy="187.4" r="0.97" fill="#c0bcc6"/><circle cx="237.5" cy="189.1" r="0.82" fill="#c0bcc6"/><circle cx="240.2" cy="188.3" r="0.93" fill="#c0bcc6"/><circle cx="244.1" cy="187.2" r="0.80" fill="#c0bcc6"/><circle cx="249.1" cy="188.6" r="0.74" fill="#c0bcc6"/><circle cx="251.1" cy="187.2" r="0.72" fill="#c0bcc6"/><circle cx="255.7" cy="187.4" r="0.87" fill="#c0bcc6"/><circle cx="258.5" cy="187.4" r="0.92" fill="#c0bcc6"/><circle cx="261.3" cy="188.3" r="0.73" fill="#c0bcc6"/><circle cx="265.4" cy="187.4" r="0.78" fill="#c0bcc6"/><circle cx="270.1" cy="188.7" r="0.79" fill="#c0bcc6"/><circle cx="273.4" cy="187.4" r="0.82" fill="#c0bcc6"/><circle cx="276.8" cy="188.3" r="0.73" fill="#c0bcc6"/><circle cx="226.4" cy="190.5" r="0.78" fill="#c0bcc6"/><circle cx="229.4" cy="190.7" r="0.79" fill="#c0bcc6"/><circle cx="231.5" cy="190.2" r="0.87" fill="#c0bcc6"/><circle cx="235.3" cy="191.3" r="0.81" fill="#c0bcc6"/><circle cx="239.3" cy="192.1" r="0.85" fill="#c0bcc6"/><circle cx="243.0" cy="191.9" r="0.75" fill="#c0bcc6"/><circle cx="245.6" cy="191.9" r="0.95" fill="#c0bcc6"/><circle cx="249.3" cy="190.4" r="0.92" fill="#c0bcc6"/><circle cx="254.3" cy="190.5" r="0.99" fill="#c0bcc6"/><circle cx="257.7" cy="191.3" r="0.83" fill="#c0bcc6"/><circle cx="259.5" cy="190.1" r="0.99" fill="#c0bcc6"/><circle cx="263.3" cy="191.5" r="0.78" fill="#c0bcc6"/><circle cx="268.0" cy="191.3" r="0.79" fill="#c0bcc6"/><circle cx="270.2" cy="191.6" r="0.72" fill="#c0bcc6"/><circle cx="273.8" cy="191.2" r="0.96" fill="#c0bcc6"/><circle cx="278.1" cy="190.6" r="0.98" fill="#c0bcc6"/><circle cx="226.5" cy="193.1" r="0.78" fill="#c0bcc6"/><circle cx="230.5" cy="193.2" r="0.75" fill="#c0bcc6"/><circle cx="233.8" cy="194.3" r="0.74" fill="#c0bcc6"/><circle cx="237.3" cy="195.0" r="0.99" fill="#c0bcc6"/><circle cx="241.4" cy="194.5" r="0.88" fill="#c0bcc6"/><circle cx="243.8" cy="193.2" r="0.71" fill="#c0bcc6"/><circle cx="249.0" cy="194.6" r="0.99" fill="#c0bcc6"/><circle cx="250.6" cy="194.4" r="0.84" fill="#c0bcc6"/><circle cx="255.6" cy="193.8" r="1.00" fill="#c0bcc6"/><circle cx="257.7" cy="194.2" r="0.92" fill="#c0bcc6"/><circle cx="262.9" cy="194.6" r="0.91" fill="#c0bcc6"/><circle cx="266.2" cy="195.0" r="0.81" fill="#c0bcc6"/><circle cx="269.5" cy="195.0" r="0.96" fill="#c0bcc6"/><circle cx="272.4" cy="194.7" r="0.96" fill="#c0bcc6"/><circle cx="276.3" cy="194.4" r="0.81" fill="#c0bcc6"/><circle cx="225.5" cy="197.4" r="0.72" fill="#c0bcc6"/><circle cx="229.1" cy="198.2" r="0.96" fill="#c0bcc6"/><circle cx="232.8" cy="196.9" r="0.92" fill="#c0bcc6"/><circle cx="236.0" cy="197.1" r="0.95" fill="#c0bcc6"/><circle cx="238.5" cy="197.7" r="0.71" fill="#c0bcc6"/><circle cx="243.1" cy="197.1" r="0.77" fill="#c0bcc6"/><circle cx="246.8" cy="197.2" r="0.88" fill="#c0bcc6"/><circle cx="250.7" cy="196.7" r="0.70" fill="#c0bcc6"/><circle cx="252.9" cy="197.6" r="0.76" fill="#c0bcc6"/><circle cx="256.2" cy="198.0" r="0.90" fill="#c0bcc6"/><circle cx="260.2" cy="198.0" r="0.80" fill="#c0bcc6"/><circle cx="264.2" cy="196.5" r="0.83" fill="#c0bcc6"/><circle cx="268.0" cy="198.0" r="0.96" fill="#c0bcc6"/><circle cx="270.6" cy="197.4" r="0.79" fill="#c0bcc6"/><circle cx="273.6" cy="197.2" r="0.95" fill="#c0bcc6"/><circle cx="278.6" cy="197.6" r="0.99" fill="#c0bcc6"/><circle cx="226.6" cy="199.5" r="0.84" fill="#c0bcc6"/><circle cx="230.1" cy="199.6" r="0.82" fill="#c0bcc6"/><circle cx="234.4" cy="200.2" r="0.79" fill="#c0bcc6"/><circle cx="238.3" cy="201.2" r="0.84" fill="#c0bcc6"/><circle cx="240.2" cy="199.2" r="0.96" fill="#c0bcc6"/><circle cx="243.6" cy="200.7" r="0.87" fill="#c0bcc6"/><circle cx="247.7" cy="200.8" r="0.71" fill="#c0bcc6"/><circle cx="250.8" cy="200.1" r="0.71" fill="#c0bcc6"/><circle cx="255.8" cy="199.7" r="0.74" fill="#c0bcc6"/><circle cx="257.6" cy="200.5" r="0.83" fill="#c0bcc6"/><circle cx="262.4" cy="200.6" r="0.94" fill="#c0bcc6"/><circle cx="266.6" cy="200.6" r="0.76" fill="#c0bcc6"/><circle cx="269.0" cy="199.6" r="0.70" fill="#c0bcc6"/><circle cx="272.5" cy="200.7" r="0.75" fill="#c0bcc6"/><circle cx="275.6" cy="199.9" r="0.91" fill="#c0bcc6"/><circle cx="225.4" cy="203.5" r="0.93" fill="#c0bcc6"/><circle cx="228.6" cy="203.9" r="0.97" fill="#c0bcc6"/><circle cx="231.5" cy="204.2" r="0.92" fill="#c0bcc6"/><circle cx="235.1" cy="203.2" r="0.89" fill="#c0bcc6"/><circle cx="240.2" cy="203.0" r="0.87" fill="#c0bcc6"/><circle cx="243.6" cy="203.9" r="0.98" fill="#c0bcc6"/><circle cx="246.3" cy="203.6" r="0.76" fill="#c0bcc6"/><circle cx="250.3" cy="203.9" r="0.89" fill="#c0bcc6"/><circle cx="253.8" cy="202.7" r="0.97" fill="#c0bcc6"/><circle cx="257.9" cy="204.3" r="0.86" fill="#c0bcc6"/><circle cx="261.0" cy="202.9" r="0.97" fill="#c0bcc6"/><circle cx="264.6" cy="203.0" r="0.72" fill="#c0bcc6"/><circle cx="267.2" cy="203.4" r="0.93" fill="#c0bcc6"/><circle cx="270.8" cy="202.3" r="0.94" fill="#c0bcc6"/><circle cx="273.4" cy="203.9" r="0.75" fill="#c0bcc6"/><circle cx="277.5" cy="203.9" r="0.74" fill="#c0bcc6"/><circle cx="226.4" cy="206.3" r="0.92" fill="#c0bcc6"/><circle cx="231.3" cy="206.7" r="0.98" fill="#c0bcc6"/><circle cx="234.1" cy="207.3" r="0.73" fill="#c0bcc6"/><circle cx="237.0" cy="206.4" r="0.79" fill="#c0bcc6"/><circle cx="241.6" cy="206.6" r="0.86" fill="#c0bcc6"/><circle cx="245.3" cy="206.4" r="0.79" fill="#c0bcc6"/><circle cx="247.9" cy="207.0" r="0.97" fill="#c0bcc6"/><circle cx="251.0" cy="207.1" r="0.99" fill="#c0bcc6"/><circle cx="255.2" cy="206.5" r="0.76" fill="#c0bcc6"/><circle cx="258.7" cy="206.3" r="0.88" fill="#c0bcc6"/><circle cx="261.1" cy="207.3" r="0.85" fill="#c0bcc6"/><circle cx="265.4" cy="206.9" r="0.87" fill="#c0bcc6"/><circle cx="269.1" cy="206.7" r="0.72" fill="#c0bcc6"/><circle cx="272.7" cy="206.1" r="0.99" fill="#c0bcc6"/><circle cx="277.0" cy="205.8" r="0.84" fill="#c0bcc6"/><circle cx="229.5" cy="210.2" r="0.84" fill="#c0bcc6"/><circle cx="232.0" cy="208.7" r="0.89" fill="#c0bcc6"/><circle cx="236.7" cy="208.6" r="0.93" fill="#c0bcc6"/><circle cx="238.3" cy="208.7" r="0.77" fill="#c0bcc6"/><circle cx="243.2" cy="209.0" r="0.81" fill="#c0bcc6"/><circle cx="246.6" cy="208.5" r="0.92" fill="#c0bcc6"/><circle cx="249.1" cy="209.4" r="0.78" fill="#c0bcc6"/><circle cx="252.7" cy="209.4" r="0.83" fill="#c0bcc6"/><circle cx="256.6" cy="209.2" r="0.86" fill="#c0bcc6"/><circle cx="259.6" cy="208.7" r="0.89" fill="#c0bcc6"/><circle cx="264.1" cy="209.4" r="0.96" fill="#c0bcc6"/><circle cx="267.6" cy="210.1" r="0.77" fill="#c0bcc6"/><circle cx="271.4" cy="210.0" r="0.97" fill="#c0bcc6"/><circle cx="274.0" cy="209.0" r="0.98" fill="#c0bcc6"/><circle cx="277.3" cy="210.4" r="0.97" fill="#c0bcc6"/><circle cx="226.3" cy="211.9" r="0.92" fill="#c0bcc6"/><circle cx="230.1" cy="211.6" r="0.95" fill="#c0bcc6"/><circle cx="233.9" cy="213.0" r="0.74" fill="#c0bcc6"/><circle cx="237.4" cy="212.8" r="0.71" fill="#c0bcc6"/><circle cx="240.5" cy="212.8" r="0.97" fill="#c0bcc6"/><circle cx="245.6" cy="211.6" r="0.85" fill="#c0bcc6"/><circle cx="248.6" cy="212.4" r="0.91" fill="#c0bcc6"/><circle cx="250.9" cy="211.5" r="0.73" fill="#c0bcc6"/><circle cx="254.1" cy="212.5" r="0.85" fill="#c0bcc6"/><circle cx="258.7" cy="211.7" r="0.76" fill="#c0bcc6"/><circle cx="261.5" cy="213.1" r="1.00" fill="#c0bcc6"/><circle cx="266.5" cy="211.6" r="0.72" fill="#c0bcc6"/><circle cx="270.0" cy="212.3" r="0.93" fill="#c0bcc6"/><circle cx="272.2" cy="212.3" r="0.85" fill="#c0bcc6"/><circle cx="276.0" cy="212.6" r="0.70" fill="#c0bcc6"/><circle cx="225.8" cy="216.2" r="0.75" fill="#c0bcc6"/><circle cx="228.8" cy="216.0" r="0.82" fill="#c0bcc6"/><circle cx="231.7" cy="214.7" r="0.85" fill="#c0bcc6"/><circle cx="234.8" cy="216.3" r="0.94" fill="#c0bcc6"/><circle cx="239.8" cy="216.2" r="0.89" fill="#c0bcc6"/><circle cx="242.6" cy="215.7" r="0.85" fill="#c0bcc6"/><circle cx="247.4" cy="216.1" r="0.78" fill="#c0bcc6"/><circle cx="250.7" cy="216.0" r="0.93" fill="#c0bcc6"/><circle cx="254.0" cy="215.3" r="0.97" fill="#c0bcc6"/><circle cx="257.6" cy="215.9" r="0.93" fill="#c0bcc6"/><circle cx="260.9" cy="215.3" r="0.92" fill="#c0bcc6"/><circle cx="262.9" cy="215.1" r="0.84" fill="#c0bcc6"/><circle cx="266.3" cy="215.1" r="0.89" fill="#c0bcc6"/><circle cx="271.1" cy="214.9" r="0.98" fill="#c0bcc6"/><circle cx="274.7" cy="215.1" r="0.90" fill="#c0bcc6"/><circle cx="278.0" cy="215.5" r="0.82" fill="#c0bcc6"/><circle cx="228.1" cy="218.8" r="0.91" fill="#c0bcc6"/><circle cx="231.1" cy="219.5" r="0.71" fill="#c0bcc6"/><circle cx="234.3" cy="219.0" r="0.78" fill="#c0bcc6"/><circle cx="237.4" cy="217.6" r="0.76" fill="#c0bcc6"/><circle cx="240.8" cy="217.7" r="0.78" fill="#c0bcc6"/><circle cx="245.5" cy="218.6" r="0.85" fill="#c0bcc6"/><circle cx="249.1" cy="218.6" r="1.00" fill="#c0bcc6"/><circle cx="251.9" cy="219.1" r="0.72" fill="#c0bcc6"/><circle cx="255.3" cy="219.0" r="0.71" fill="#c0bcc6"/><circle cx="259.5" cy="217.8" r="0.84" fill="#c0bcc6"/><circle cx="261.4" cy="218.5" r="0.88" fill="#c0bcc6"/><circle cx="264.7" cy="219.4" r="0.83" fill="#c0bcc6"/><circle cx="269.2" cy="218.7" r="0.81" fill="#c0bcc6"/><circle cx="272.2" cy="218.8" r="0.87" fill="#c0bcc6"/><circle cx="275.6" cy="218.9" r="0.79" fill="#c0bcc6"/></g>
<filter id="tx2" x="284.00" y="183.60" width="54.80" height="36.80" filterUnits="userSpaceOnUse" primitiveUnits="userSpaceOnUse" color-interpolation-filters="sRGB"><feTurbulence type="fractalNoise" baseFrequency="0.5" numOctaves="2" seed="5"/><feColorMatrix type="matrix" values="0.760 0 0 0 0.189 0.671 0 0 0 0.006 0.566 0 0 0 -0.087 0 0 0 0 1"/></filter>
<rect x="284.00" y="183.60" width="54.80" height="36.80" fill="#000" filter="url(#tx2)"/>
<g opacity="0.55"><circle cx="291.4" cy="184.6" r="0.76" fill="#dcd4d4"/><circle cx="297.8" cy="185.6" r="0.48" fill="#dcd4d4"/><circle cx="300.6" cy="184.7" r="0.62" fill="#dcd4d4"/><circle cx="303.8" cy="184.3" r="0.63" fill="#dcd4d4"/><circle cx="306.7" cy="185.2" r="0.61" fill="#dcd4d4"/><circle cx="309.8" cy="185.4" r="0.66" fill="#dcd4d4"/><circle cx="311.2" cy="185.0" r="0.61" fill="#dcd4d4"/><circle cx="320.8" cy="185.1" r="0.61" fill="#dcd4d4"/><circle cx="323.5" cy="184.9" r="0.60" fill="#dcd4d4"/><circle cx="327.4" cy="184.9" r="0.80" fill="#dcd4d4"/><circle cx="330.7" cy="185.2" r="0.53" fill="#dcd4d4"/><circle cx="332.2" cy="185.5" r="0.72" fill="#dcd4d4"/><circle cx="336.1" cy="184.5" r="0.55" fill="#dcd4d4"/><circle cx="286.7" cy="187.5" r="0.66" fill="#dcd4d4"/><circle cx="289.6" cy="187.9" r="0.52" fill="#dcd4d4"/><circle cx="291.9" cy="188.3" r="0.77" fill="#dcd4d4"/><circle cx="296.1" cy="186.6" r="0.47" fill="#dcd4d4"/><circle cx="298.0" cy="187.3" r="0.67" fill="#dcd4d4"/><circle cx="300.7" cy="187.5" r="0.48" fill="#dcd4d4"/><circle cx="303.7" cy="187.7" r="0.64" fill="#dcd4d4"/><circle cx="307.6" cy="187.2" r="0.62" fill="#dcd4d4"/><circle cx="309.9" cy="187.1" r="0.71" fill="#dcd4d4"/><circle cx="314.0" cy="186.6" r="0.49" fill="#dcd4d4"/><circle cx="317.0" cy="187.6" r="0.72" fill="#dcd4d4"/><circle cx="318.9" cy="187.3" r="0.54" fill="#dcd4d4"/><circle cx="323.0" cy="187.2" r="0.68" fill="#dcd4d4"/><circle cx="326.3" cy="187.1" r="0.64" fill="#dcd4d4"/><circle cx="328.8" cy="188.2" r="0.60" fill="#dcd4d4"/><circle cx="331.2" cy="186.7" r="0.76" fill="#dcd4d4"/><circle cx="333.6" cy="186.7" r="0.65" fill="#dcd4d4"/><circle cx="337.4" cy="187.7" r="0.55" fill="#dcd4d4"/><circle cx="285.4" cy="189.3" r="0.52" fill="#dcd4d4"/><circle cx="288.2" cy="189.3" r="0.56" fill="#dcd4d4"/><circle cx="291.3" cy="190.4" r="0.55" fill="#dcd4d4"/><circle cx="293.3" cy="189.8" r="0.70" fill="#dcd4d4"/><circle cx="296.7" cy="189.3" r="0.70" fill="#dcd4d4"/><circle cx="300.0" cy="190.8" r="0.78" fill="#dcd4d4"/><circle cx="303.6" cy="189.9" r="0.73" fill="#dcd4d4"/><circle cx="305.5" cy="189.7" r="0.59" fill="#dcd4d4"/><circle cx="309.7" cy="190.7" r="0.54" fill="#dcd4d4"/><circle cx="311.7" cy="189.8" r="0.58" fill="#dcd4d4"/><circle cx="314.7" cy="189.8" r="0.52" fill="#dcd4d4"/><circle cx="318.0" cy="190.6" r="0.64" fill="#dcd4d4"/><circle cx="321.5" cy="190.1" r="0.51" fill="#dcd4d4"/><circle cx="324.4" cy="190.7" r="0.55" fill="#dcd4d4"/><circle cx="326.0" cy="190.0" r="0.64" fill="#dcd4d4"/><circle cx="330.0" cy="190.9" r="0.68" fill="#dcd4d4"/><circle cx="333.4" cy="189.2" r="0.64" fill="#dcd4d4"/><circle cx="336.4" cy="189.3" r="0.48" fill="#dcd4d4"/><circle cx="286.8" cy="193.3" r="0.48" fill="#dcd4d4"/><circle cx="289.6" cy="192.0" r="0.71" fill="#dcd4d4"/><circle cx="292.7" cy="192.2" r="0.53" fill="#dcd4d4"/><circle cx="295.9" cy="192.7" r="0.72" fill="#dcd4d4"/><circle cx="298.2" cy="192.3" r="0.79" fill="#dcd4d4"/><circle cx="301.7" cy="192.6" r="0.64" fill="#dcd4d4"/><circle cx="304.8" cy="193.0" r="0.77" fill="#dcd4d4"/><circle cx="307.2" cy="193.2" r="0.68" fill="#dcd4d4"/><circle cx="311.0" cy="193.2" r="0.74" fill="#dcd4d4"/><circle cx="314.1" cy="193.5" r="0.67" fill="#dcd4d4"/><circle cx="316.4" cy="193.0" r="0.73" fill="#dcd4d4"/><circle cx="319.3" cy="192.5" r="0.50" fill="#dcd4d4"/><circle cx="322.8" cy="193.5" r="0.58" fill="#dcd4d4"/><circle cx="324.8" cy="192.1" r="0.60" fill="#dcd4d4"/><circle cx="328.0" cy="193.5" r="0.47" fill="#dcd4d4"/><circle cx="331.1" cy="191.9" r="0.68" fill="#dcd4d4"/><circle cx="334.9" cy="192.1" r="0.47" fill="#dcd4d4"/><circle cx="337.3" cy="192.8" r="0.77" fill="#dcd4d4"/><circle cx="287.3" cy="194.7" r="0.53" fill="#dcd4d4"/><circle cx="291.3" cy="195.4" r="0.53" fill="#dcd4d4"/><circle cx="293.3" cy="194.8" r="0.51" fill="#dcd4d4"/><circle cx="297.4" cy="194.9" r="0.64" fill="#dcd4d4"/><circle cx="300.5" cy="195.2" r="0.54" fill="#dcd4d4"/><circle cx="303.6" cy="196.0" r="0.57" fill="#dcd4d4"/><circle cx="306.0" cy="196.1" r="0.62" fill="#dcd4d4"/><circle cx="308.4" cy="194.4" r="0.78" fill="#dcd4d4"/><circle cx="312.4" cy="195.0" r="0.63" fill="#dcd4d4"/><circle cx="314.9" cy="194.8" r="0.80" fill="#dcd4d4"/><circle cx="318.2" cy="194.8" r="0.45" fill="#dcd4d4"/><circle cx="320.9" cy="195.0" r="0.73" fill="#dcd4d4"/><circle cx="324.3" cy="195.4" r="0.51" fill="#dcd4d4"/><circle cx="326.3" cy="194.9" r="0.54" fill="#dcd4d4"/><circle cx="330.6" cy="195.3" r="0.67" fill="#dcd4d4"/><circle cx="333.8" cy="194.8" r="0.64" fill="#dcd4d4"/><circle cx="335.3" cy="195.7" r="0.45" fill="#dcd4d4"/><circle cx="287.0" cy="198.5" r="0.74" fill="#dcd4d4"/><circle cx="288.6" cy="197.4" r="0.70" fill="#dcd4d4"/><circle cx="291.7" cy="197.8" r="0.61" fill="#dcd4d4"/><circle cx="296.2" cy="198.0" r="0.75" fill="#dcd4d4"/><circle cx="298.0" cy="198.4" r="0.60" fill="#dcd4d4"/><circle cx="302.2" cy="197.1" r="0.74" fill="#dcd4d4"/><circle cx="303.9" cy="197.9" r="0.63" fill="#dcd4d4"/><circle cx="306.8" cy="198.4" r="0.56" fill="#dcd4d4"/><circle cx="310.1" cy="197.1" r="0.56" fill="#dcd4d4"/><circle cx="313.3" cy="198.2" r="0.58" fill="#dcd4d4"/><circle cx="316.7" cy="197.1" r="0.59" fill="#dcd4d4"/><circle cx="319.3" cy="198.7" r="0.74" fill="#dcd4d4"/><circle cx="322.7" cy="197.0" r="0.58" fill="#dcd4d4"/><circle cx="325.8" cy="197.4" r="0.65" fill="#dcd4d4"/><circle cx="328.3" cy="197.0" r="0.80" fill="#dcd4d4"/><circle cx="331.9" cy="197.3" r="0.67" fill="#dcd4d4"/><circle cx="334.0" cy="197.6" r="0.64" fill="#dcd4d4"/><circle cx="337.0" cy="197.6" r="0.59" fill="#dcd4d4"/><circle cx="285.2" cy="200.0" r="0.52" fill="#dcd4d4"/><circle cx="288.3" cy="200.2" r="0.78" fill="#dcd4d4"/><circle cx="291.0" cy="200.9" r="0.57" fill="#dcd4d4"/><circle cx="294.5" cy="199.7" r="0.50" fill="#dcd4d4"/><circle cx="296.2" cy="200.8" r="0.70" fill="#dcd4d4"/><circle cx="299.3" cy="200.3" r="0.74" fill="#dcd4d4"/><circle cx="303.1" cy="199.7" r="0.53" fill="#dcd4d4"/><circle cx="305.3" cy="199.8" r="0.59" fill="#dcd4d4"/><circle cx="308.1" cy="201.2" r="0.60" fill="#dcd4d4"/><circle cx="311.9" cy="200.7" r="0.72" fill="#dcd4d4"/><circle cx="315.5" cy="200.3" r="0.57" fill="#dcd4d4"/><circle cx="317.7" cy="199.6" r="0.59" fill="#dcd4d4"/><circle cx="321.3" cy="201.3" r="0.73" fill="#dcd4d4"/><circle cx="324.2" cy="200.7" r="0.46" fill="#dcd4d4"/><circle cx="326.6" cy="200.2" r="0.68" fill="#dcd4d4"/><circle cx="329.2" cy="200.2" r="0.63" fill="#dcd4d4"/><circle cx="333.4" cy="201.0" r="0.66" fill="#dcd4d4"/><circle cx="335.3" cy="200.9" r="0.77" fill="#dcd4d4"/><circle cx="286.5" cy="202.8" r="0.63" fill="#dcd4d4"/><circle cx="288.8" cy="203.5" r="0.80" fill="#dcd4d4"/><circle cx="292.4" cy="203.5" r="0.74" fill="#dcd4d4"/><circle cx="294.9" cy="203.9" r="0.67" fill="#dcd4d4"/><circle cx="297.9" cy="202.3" r="0.54" fill="#dcd4d4"/><circle cx="301.5" cy="203.4" r="0.57" fill="#dcd4d4"/><circle cx="305.2" cy="202.8" r="0.61" fill="#dcd4d4"/><circle cx="306.7" cy="203.9" r="0.50" fill="#dcd4d4"/><circle cx="311.1" cy="203.1" r="0.65" fill="#dcd4d4"/><circle cx="313.5" cy="202.6" r="0.77" fill="#dcd4d4"/><circle cx="317.3" cy="203.6" r="0.66" fill="#dcd4d4"/><circle cx="318.7" cy="203.7" r="0.55" fill="#dcd4d4"/><circle cx="323.1" cy="202.6" r="0.65" fill="#dcd4d4"/><circle cx="326.0" cy="202.5" r="0.64" fill="#dcd4d4"/><circle cx="327.6" cy="202.2" r="0.51" fill="#dcd4d4"/><circle cx="332.3" cy="203.9" r="0.68" fill="#dcd4d4"/><circle cx="334.1" cy="203.4" r="0.71" fill="#dcd4d4"/><circle cx="337.2" cy="203.2" r="0.73" fill="#dcd4d4"/><circle cx="287.8" cy="205.0" r="0.59" fill="#dcd4d4"/><circle cx="291.0" cy="205.1" r="0.63" fill="#dcd4d4"/><circle cx="293.5" cy="205.8" r="0.57" fill="#dcd4d4"/><circle cx="297.2" cy="204.8" r="0.68" fill="#dcd4d4"/><circle cx="299.3" cy="206.5" r="0.66" fill="#dcd4d4"/><circle cx="302.8" cy="205.5" r="0.67" fill="#dcd4d4"/><circle cx="306.2" cy="206.1" r="0.71" fill="#dcd4d4"/><circle cx="308.9" cy="206.6" r="0.74" fill="#dcd4d4"/><circle cx="312.5" cy="205.5" r="0.60" fill="#dcd4d4"/><circle cx="315.0" cy="206.4" r="0.63" fill="#dcd4d4"/><circle cx="317.9" cy="205.6" r="0.77" fill="#dcd4d4"/><circle cx="320.6" cy="204.9" r="0.70" fill="#dcd4d4"/><circle cx="324.6" cy="206.1" r="0.66" fill="#dcd4d4"/><circle cx="327.4" cy="205.3" r="0.66" fill="#dcd4d4"/><circle cx="329.1" cy="205.0" r="0.61" fill="#dcd4d4"/><circle cx="332.9" cy="205.5" r="0.47" fill="#dcd4d4"/><circle cx="336.3" cy="205.7" r="0.53" fill="#dcd4d4"/><circle cx="286.1" cy="208.1" r="0.53" fill="#dcd4d4"/><circle cx="288.6" cy="209.0" r="0.79" fill="#dcd4d4"/><circle cx="292.7" cy="208.9" r="0.60" fill="#dcd4d4"/><circle cx="295.9" cy="207.8" r="0.71" fill="#dcd4d4"/><circle cx="298.5" cy="209.0" r="0.48" fill="#dcd4d4"/><circle cx="301.9" cy="207.6" r="0.64" fill="#dcd4d4"/><circle cx="305.2" cy="207.4" r="0.54" fill="#dcd4d4"/><circle cx="307.0" cy="208.0" r="0.47" fill="#dcd4d4"/><circle cx="311.1" cy="208.9" r="0.59" fill="#dcd4d4"/><circle cx="313.1" cy="208.4" r="0.47" fill="#dcd4d4"/><circle cx="315.6" cy="209.0" r="0.56" fill="#dcd4d4"/><circle cx="319.4" cy="209.1" r="0.79" fill="#dcd4d4"/><circle cx="322.4" cy="207.8" r="0.55" fill="#dcd4d4"/><circle cx="326.2" cy="209.0" r="0.52" fill="#dcd4d4"/><circle cx="329.0" cy="208.0" r="0.62" fill="#dcd4d4"/><circle cx="330.8" cy="209.0" r="0.80" fill="#dcd4d4"/><circle cx="333.9" cy="208.5" r="0.52" fill="#dcd4d4"/><circle cx="338.1" cy="207.5" r="0.49" fill="#dcd4d4"/><circle cx="285.3" cy="210.6" r="0.77" fill="#dcd4d4"/><circle cx="288.6" cy="211.3" r="0.50" fill="#dcd4d4"/><circle cx="291.3" cy="211.7" r="0.61" fill="#dcd4d4"/><circle cx="293.1" cy="210.4" r="0.56" fill="#dcd4d4"/><circle cx="297.3" cy="210.4" r="0.51" fill="#dcd4d4"/><circle cx="299.4" cy="211.2" r="0.73" fill="#dcd4d4"/><circle cx="302.7" cy="211.2" r="0.76" fill="#dcd4d4"/><circle cx="306.1" cy="210.4" r="0.56" fill="#dcd4d4"/><circle cx="309.7" cy="211.2" r="0.55" fill="#dcd4d4"/><circle cx="312.2" cy="210.2" r="0.79" fill="#dcd4d4"/><circle cx="314.8" cy="211.0" r="0.64" fill="#dcd4d4"/><circle cx="317.1" cy="211.1" r="0.55" fill="#dcd4d4"/><circle cx="320.5" cy="211.4" r="0.48" fill="#dcd4d4"/><circle cx="323.5" cy="211.4" r="0.54" fill="#dcd4d4"/><circle cx="326.5" cy="211.0" r="0.52" fill="#dcd4d4"/><circle cx="330.6" cy="211.8" r="0.46" fill="#dcd4d4"/><circle cx="332.8" cy="211.4" r="0.58" fill="#dcd4d4"/><circle cx="336.7" cy="210.9" r="0.51" fill="#dcd4d4"/><circle cx="286.5" cy="213.8" r="0.58" fill="#dcd4d4"/><circle cx="289.7" cy="214.0" r="0.63" fill="#dcd4d4"/><circle cx="292.4" cy="214.1" r="0.69" fill="#dcd4d4"/><circle cx="295.4" cy="214.3" r="0.51" fill="#dcd4d4"/><circle cx="298.9" cy="212.9" r="0.66" fill="#dcd4d4"/><circle cx="300.9" cy="213.4" r="0.72" fill="#dcd4d4"/><circle cx="304.9" cy="214.0" r="0.53" fill="#dcd4d4"/><circle cx="307.4" cy="213.0" r="0.65" fill="#dcd4d4"/><circle cx="310.4" cy="212.7" r="0.66" fill="#dcd4d4"/><circle cx="313.8" cy="213.6" r="0.76" fill="#dcd4d4"/><circle cx="315.8" cy="212.9" r="0.46" fill="#dcd4d4"/><circle cx="319.4" cy="213.4" r="0.60" fill="#dcd4d4"/><circle cx="322.0" cy="214.0" r="0.48" fill="#dcd4d4"/><circle cx="326.1" cy="213.6" r="0.64" fill="#dcd4d4"/><circle cx="328.9" cy="213.0" r="0.50" fill="#dcd4d4"/><circle cx="331.1" cy="212.7" r="0.56" fill="#dcd4d4"/><circle cx="334.6" cy="213.6" r="0.54" fill="#dcd4d4"/><circle cx="337.6" cy="212.8" r="0.74" fill="#dcd4d4"/><circle cx="287.3" cy="216.5" r="0.74" fill="#dcd4d4"/><circle cx="291.4" cy="215.3" r="0.59" fill="#dcd4d4"/><circle cx="293.7" cy="215.6" r="0.79" fill="#dcd4d4"/><circle cx="296.1" cy="216.1" r="0.72" fill="#dcd4d4"/><circle cx="300.8" cy="215.5" r="0.61" fill="#dcd4d4"/><circle cx="303.3" cy="215.3" r="0.53" fill="#dcd4d4"/><circle cx="306.6" cy="215.5" r="0.59" fill="#dcd4d4"/><circle cx="308.5" cy="216.0" r="0.48" fill="#dcd4d4"/><circle cx="311.1" cy="217.0" r="0.72" fill="#dcd4d4"/><circle cx="315.3" cy="215.6" r="0.54" fill="#dcd4d4"/><circle cx="318.0" cy="215.7" r="0.61" fill="#dcd4d4"/><circle cx="321.7" cy="215.9" r="0.57" fill="#dcd4d4"/><circle cx="324.8" cy="216.3" r="0.46" fill="#dcd4d4"/><circle cx="326.7" cy="216.4" r="0.47" fill="#dcd4d4"/><circle cx="329.6" cy="216.5" r="0.75" fill="#dcd4d4"/><circle cx="333.1" cy="216.8" r="0.61" fill="#dcd4d4"/><circle cx="335.7" cy="216.7" r="0.58" fill="#dcd4d4"/><circle cx="286.9" cy="218.2" r="0.57" fill="#dcd4d4"/><circle cx="288.8" cy="218.8" r="0.51" fill="#dcd4d4"/><circle cx="291.9" cy="218.2" r="0.61" fill="#dcd4d4"/><circle cx="295.1" cy="218.6" r="0.80" fill="#dcd4d4"/><circle cx="298.7" cy="219.4" r="0.52" fill="#dcd4d4"/><circle cx="301.2" cy="218.0" r="0.69" fill="#dcd4d4"/><circle cx="304.2" cy="218.3" r="0.46" fill="#dcd4d4"/><circle cx="306.8" cy="218.3" r="0.59" fill="#dcd4d4"/><circle cx="311.2" cy="219.1" r="0.54" fill="#dcd4d4"/><circle cx="313.1" cy="218.1" r="0.78" fill="#dcd4d4"/><circle cx="316.1" cy="219.2" r="0.70" fill="#dcd4d4"/><circle cx="320.1" cy="217.9" r="0.56" fill="#dcd4d4"/><circle cx="322.2" cy="218.0" r="0.76" fill="#dcd4d4"/><circle cx="325.1" cy="219.2" r="0.63" fill="#dcd4d4"/><circle cx="327.6" cy="218.5" r="0.53" fill="#dcd4d4"/><circle cx="330.6" cy="218.1" r="0.66" fill="#dcd4d4"/><circle cx="333.6" cy="218.4" r="0.60" fill="#dcd4d4"/><circle cx="337.5" cy="218.1" r="0.70" fill="#dcd4d4"/></g>
<filter id="tx3" x="224.30" y="224.00" width="55.00" height="36.60" filterUnits="userSpaceOnUse" primitiveUnits="userSpaceOnUse" color-interpolation-filters="sRGB"><feTurbulence type="fractalNoise" baseFrequency="0.4" numOctaves="2" seed="7"/><feColorMatrix type="matrix" values="0.607 0 0 0 0.422 0.734 0 0 0 0.119 0.762 0 0 0 -0.044 0 0 0 0 1"/></filter>
<rect x="224.30" y="224.00" width="55.00" height="36.60" fill="#000" filter="url(#tx3)"/>
<g opacity="0.45"><circle cx="229.1" cy="224.6" r="0.78" fill="#b8c4d8"/><circle cx="231.7" cy="225.8" r="0.86" fill="#b8c4d8"/><circle cx="235.3" cy="226.1" r="0.79" fill="#b8c4d8"/><circle cx="238.5" cy="225.0" r="0.79" fill="#b8c4d8"/><circle cx="246.0" cy="225.5" r="1.02" fill="#b8c4d8"/><circle cx="250.1" cy="224.9" r="0.97" fill="#b8c4d8"/><circle cx="253.4" cy="224.8" r="0.98" fill="#b8c4d8"/><circle cx="256.3" cy="226.3" r="1.05" fill="#b8c4d8"/><circle cx="258.8" cy="225.6" r="0.74" fill="#b8c4d8"/><circle cx="262.6" cy="225.1" r="0.72" fill="#b8c4d8"/><circle cx="265.9" cy="225.0" r="0.90" fill="#b8c4d8"/><circle cx="269.1" cy="224.7" r="0.86" fill="#b8c4d8"/><circle cx="272.9" cy="224.7" r="0.97" fill="#b8c4d8"/><circle cx="226.7" cy="228.2" r="0.76" fill="#b8c4d8"/><circle cx="230.6" cy="228.7" r="0.92" fill="#b8c4d8"/><circle cx="234.2" cy="227.3" r="0.86" fill="#b8c4d8"/><circle cx="236.9" cy="227.4" r="0.86" fill="#b8c4d8"/><circle cx="239.7" cy="228.3" r="0.93" fill="#b8c4d8"/><circle cx="244.0" cy="228.0" r="0.80" fill="#b8c4d8"/><circle cx="246.4" cy="228.0" r="1.06" fill="#b8c4d8"/><circle cx="251.0" cy="227.8" r="0.97" fill="#b8c4d8"/><circle cx="253.6" cy="228.3" r="0.95" fill="#b8c4d8"/><circle cx="258.5" cy="228.0" r="0.93" fill="#b8c4d8"/><circle cx="261.9" cy="228.9" r="0.95" fill="#b8c4d8"/><circle cx="264.7" cy="228.1" r="0.87" fill="#b8c4d8"/><circle cx="267.4" cy="229.0" r="1.05" fill="#b8c4d8"/><circle cx="271.0" cy="229.2" r="0.72" fill="#b8c4d8"/><circle cx="273.9" cy="228.3" r="0.82" fill="#b8c4d8"/><circle cx="277.7" cy="229.3" r="0.76" fill="#b8c4d8"/><circle cx="229.1" cy="230.7" r="0.70" fill="#b8c4d8"/><circle cx="232.2" cy="231.1" r="0.80" fill="#b8c4d8"/><circle cx="235.5" cy="231.6" r="0.92" fill="#b8c4d8"/><circle cx="239.2" cy="231.4" r="1.03" fill="#b8c4d8"/><circle cx="243.3" cy="230.9" r="0.84" fill="#b8c4d8"/><circle cx="246.5" cy="230.9" r="0.99" fill="#b8c4d8"/><circle cx="249.5" cy="231.7" r="1.09" fill="#b8c4d8"/><circle cx="253.2" cy="230.6" r="0.95" fill="#b8c4d8"/><circle cx="255.9" cy="231.4" r="0.85" fill="#b8c4d8"/><circle cx="258.9" cy="231.8" r="0.91" fill="#b8c4d8"/><circle cx="262.2" cy="230.8" r="0.83" fill="#b8c4d8"/><circle cx="265.5" cy="231.3" r="0.75" fill="#b8c4d8"/><circle cx="268.6" cy="230.4" r="0.74" fill="#b8c4d8"/><circle cx="273.3" cy="230.5" r="0.88" fill="#b8c4d8"/><circle cx="276.9" cy="231.2" r="0.77" fill="#b8c4d8"/><circle cx="227.8" cy="235.0" r="0.72" fill="#b8c4d8"/><circle cx="229.9" cy="234.2" r="1.02" fill="#b8c4d8"/><circle cx="233.6" cy="234.7" r="0.80" fill="#b8c4d8"/><circle cx="237.7" cy="233.9" r="0.83" fill="#b8c4d8"/><circle cx="241.1" cy="234.9" r="1.03" fill="#b8c4d8"/><circle cx="244.2" cy="234.1" r="0.98" fill="#b8c4d8"/><circle cx="247.7" cy="234.9" r="1.02" fill="#b8c4d8"/><circle cx="250.1" cy="234.0" r="0.97" fill="#b8c4d8"/><circle cx="253.7" cy="233.6" r="0.71" fill="#b8c4d8"/><circle cx="257.8" cy="235.1" r="1.09" fill="#b8c4d8"/><circle cx="260.3" cy="234.6" r="0.87" fill="#b8c4d8"/><circle cx="264.7" cy="234.0" r="1.07" fill="#b8c4d8"/><circle cx="268.8" cy="233.3" r="0.99" fill="#b8c4d8"/><circle cx="270.4" cy="233.3" r="0.81" fill="#b8c4d8"/><circle cx="275.1" cy="235.2" r="0.75" fill="#b8c4d8"/><circle cx="277.7" cy="233.3" r="0.92" fill="#b8c4d8"/><circle cx="225.3" cy="236.9" r="0.82" fill="#b8c4d8"/><circle cx="229.3" cy="237.9" r="0.81" fill="#b8c4d8"/><circle cx="231.9" cy="237.4" r="1.01" fill="#b8c4d8"/><circle cx="236.5" cy="237.0" r="0.98" fill="#b8c4d8"/><circle cx="239.0" cy="237.8" r="0.76" fill="#b8c4d8"/><circle cx="241.7" cy="236.4" r="1.07" fill="#b8c4d8"/><circle cx="245.2" cy="237.2" r="0.75" fill="#b8c4d8"/><circle cx="248.8" cy="236.2" r="0.93" fill="#b8c4d8"/><circle cx="251.8" cy="237.4" r="0.81" fill="#b8c4d8"/><circle cx="255.4" cy="237.2" r="0.85" fill="#b8c4d8"/><circle cx="258.8" cy="236.3" r="0.73" fill="#b8c4d8"/><circle cx="263.5" cy="236.8" r="0.73" fill="#b8c4d8"/><circle cx="265.5" cy="237.2" r="1.10" fill="#b8c4d8"/><circle cx="268.9" cy="237.9" r="0.89" fill="#b8c4d8"/><circle cx="272.7" cy="237.8" r="0.86" fill="#b8c4d8"/><circle cx="275.4" cy="237.3" r="0.96" fill="#b8c4d8"/><circle cx="227.3" cy="239.7" r="1.08" fill="#b8c4d8"/><circle cx="231.2" cy="241.2" r="0.88" fill="#b8c4d8"/><circle cx="234.5" cy="240.6" r="0.77" fill="#b8c4d8"/><circle cx="236.3" cy="239.5" r="0.75" fill="#b8c4d8"/><circle cx="239.8" cy="239.9" r="1.00" fill="#b8c4d8"/><circle cx="243.6" cy="240.2" r="0.70" fill="#b8c4d8"/><circle cx="246.8" cy="241.1" r="0.70" fill="#b8c4d8"/><circle cx="250.9" cy="240.8" r="1.02" fill="#b8c4d8"/><circle cx="254.7" cy="239.9" r="1.02" fill="#b8c4d8"/><circle cx="258.3" cy="240.7" r="1.09" fill="#b8c4d8"/><circle cx="260.2" cy="241.1" r="0.86" fill="#b8c4d8"/><circle cx="264.8" cy="239.6" r="1.06" fill="#b8c4d8"/><circle cx="266.8" cy="240.3" r="0.79" fill="#b8c4d8"/><circle cx="271.0" cy="239.9" r="0.96" fill="#b8c4d8"/><circle cx="275.3" cy="239.9" r="0.96" fill="#b8c4d8"/><circle cx="277.7" cy="239.7" r="1.06" fill="#b8c4d8"/><circle cx="225.0" cy="242.3" r="0.83" fill="#b8c4d8"/><circle cx="229.2" cy="242.5" r="1.00" fill="#b8c4d8"/><circle cx="232.2" cy="243.5" r="0.77" fill="#b8c4d8"/><circle cx="234.7" cy="242.4" r="0.84" fill="#b8c4d8"/><circle cx="238.8" cy="242.1" r="0.90" fill="#b8c4d8"/><circle cx="242.1" cy="242.7" r="0.91" fill="#b8c4d8"/><circle cx="246.6" cy="242.5" r="1.05" fill="#b8c4d8"/><circle cx="248.8" cy="243.6" r="0.74" fill="#b8c4d8"/><circle cx="253.5" cy="243.0" r="1.09" fill="#b8c4d8"/><circle cx="255.3" cy="242.9" r="0.98" fill="#b8c4d8"/><circle cx="258.7" cy="242.6" r="0.97" fill="#b8c4d8"/><circle cx="263.6" cy="242.7" r="0.77" fill="#b8c4d8"/><circle cx="265.8" cy="244.1" r="0.76" fill="#b8c4d8"/><circle cx="269.8" cy="242.9" r="0.96" fill="#b8c4d8"/><circle cx="272.3" cy="243.3" r="1.06" fill="#b8c4d8"/><circle cx="277.0" cy="243.4" r="0.90" fill="#b8c4d8"/><circle cx="227.2" cy="245.3" r="1.03" fill="#b8c4d8"/><circle cx="230.8" cy="246.0" r="0.97" fill="#b8c4d8"/><circle cx="233.7" cy="245.8" r="0.79" fill="#b8c4d8"/><circle cx="237.4" cy="246.2" r="0.91" fill="#b8c4d8"/><circle cx="239.7" cy="246.3" r="0.88" fill="#b8c4d8"/><circle cx="244.2" cy="246.3" r="1.07" fill="#b8c4d8"/><circle cx="246.7" cy="246.0" r="1.10" fill="#b8c4d8"/><circle cx="251.3" cy="245.7" r="0.99" fill="#b8c4d8"/><circle cx="255.2" cy="245.9" r="1.05" fill="#b8c4d8"/><circle cx="256.9" cy="247.1" r="0.90" fill="#b8c4d8"/><circle cx="260.5" cy="246.8" r="0.96" fill="#b8c4d8"/><circle cx="265.3" cy="246.7" r="1.02" fill="#b8c4d8"/><circle cx="267.8" cy="247.1" r="0.73" fill="#b8c4d8"/><circle cx="272.0" cy="246.5" r="0.80" fill="#b8c4d8"/><circle cx="275.2" cy="246.0" r="0.91" fill="#b8c4d8"/><circle cx="227.9" cy="249.1" r="1.01" fill="#b8c4d8"/><circle cx="232.1" cy="248.5" r="1.02" fill="#b8c4d8"/><circle cx="236.2" cy="249.6" r="0.92" fill="#b8c4d8"/><circle cx="239.7" cy="249.6" r="0.76" fill="#b8c4d8"/><circle cx="242.0" cy="248.2" r="0.71" fill="#b8c4d8"/><circle cx="245.4" cy="249.8" r="1.03" fill="#b8c4d8"/><circle cx="248.3" cy="248.4" r="0.86" fill="#b8c4d8"/><circle cx="253.2" cy="249.3" r="1.06" fill="#b8c4d8"/><circle cx="255.0" cy="250.0" r="0.78" fill="#b8c4d8"/><circle cx="259.6" cy="249.8" r="0.99" fill="#b8c4d8"/><circle cx="262.1" cy="249.4" r="0.87" fill="#b8c4d8"/><circle cx="265.1" cy="248.7" r="0.83" fill="#b8c4d8"/><circle cx="269.8" cy="248.6" r="0.94" fill="#b8c4d8"/><circle cx="273.3" cy="248.4" r="0.75" fill="#b8c4d8"/><circle cx="276.7" cy="249.0" r="0.75" fill="#b8c4d8"/><circle cx="226.2" cy="252.9" r="0.94" fill="#b8c4d8"/><circle cx="230.1" cy="251.4" r="1.10" fill="#b8c4d8"/><circle cx="234.2" cy="252.5" r="0.84" fill="#b8c4d8"/><circle cx="236.8" cy="251.8" r="0.76" fill="#b8c4d8"/><circle cx="240.9" cy="251.8" r="1.03" fill="#b8c4d8"/><circle cx="243.8" cy="251.9" r="0.90" fill="#b8c4d8"/><circle cx="248.3" cy="251.7" r="0.98" fill="#b8c4d8"/><circle cx="250.3" cy="252.1" r="0.81" fill="#b8c4d8"/><circle cx="255.0" cy="251.5" r="1.04" fill="#b8c4d8"/><circle cx="258.0" cy="251.9" r="1.07" fill="#b8c4d8"/><circle cx="260.8" cy="252.5" r="0.94" fill="#b8c4d8"/><circle cx="264.3" cy="251.1" r="0.87" fill="#b8c4d8"/><circle cx="267.4" cy="251.9" r="1.08" fill="#b8c4d8"/><circle cx="270.8" cy="252.4" r="0.97" fill="#b8c4d8"/><circle cx="274.1" cy="251.8" r="0.75" fill="#b8c4d8"/><circle cx="225.2" cy="254.6" r="1.03" fill="#b8c4d8"/><circle cx="229.4" cy="255.1" r="0.92" fill="#b8c4d8"/><circle cx="231.3" cy="255.7" r="0.74" fill="#b8c4d8"/><circle cx="235.2" cy="254.7" r="0.99" fill="#b8c4d8"/><circle cx="239.3" cy="254.6" r="1.06" fill="#b8c4d8"/><circle cx="243.2" cy="254.0" r="0.95" fill="#b8c4d8"/><circle cx="245.7" cy="254.7" r="0.89" fill="#b8c4d8"/><circle cx="248.7" cy="255.3" r="0.94" fill="#b8c4d8"/><circle cx="253.5" cy="255.9" r="1.10" fill="#b8c4d8"/><circle cx="255.7" cy="255.6" r="0.96" fill="#b8c4d8"/><circle cx="259.7" cy="256.0" r="0.73" fill="#b8c4d8"/><circle cx="262.6" cy="254.7" r="0.96" fill="#b8c4d8"/><circle cx="265.5" cy="255.9" r="0.78" fill="#b8c4d8"/><circle cx="269.3" cy="254.2" r="0.86" fill="#b8c4d8"/><circle cx="273.4" cy="254.1" r="0.77" fill="#b8c4d8"/><circle cx="276.6" cy="255.2" r="1.00" fill="#b8c4d8"/><circle cx="226.5" cy="258.5" r="0.99" fill="#b8c4d8"/><circle cx="231.0" cy="257.1" r="0.89" fill="#b8c4d8"/><circle cx="232.8" cy="258.6" r="1.08" fill="#b8c4d8"/><circle cx="238.0" cy="256.9" r="0.84" fill="#b8c4d8"/><circle cx="240.7" cy="258.0" r="0.74" fill="#b8c4d8"/><circle cx="244.6" cy="257.5" r="0.90" fill="#b8c4d8"/><circle cx="246.7" cy="258.0" r="0.75" fill="#b8c4d8"/><circle cx="250.0" cy="257.9" r="0.82" fill="#b8c4d8"/><circle cx="254.8" cy="257.4" r="0.87" fill="#b8c4d8"/><circle cx="256.7" cy="257.3" r="0.88" fill="#b8c4d8"/><circle cx="261.1" cy="257.8" r="1.04" fill="#b8c4d8"/><circle cx="263.6" cy="258.6" r="0.76" fill="#b8c4d8"/><circle cx="268.8" cy="257.9" r="0.86" fill="#b8c4d8"/><circle cx="271.4" cy="258.6" r="1.09" fill="#b8c4d8"/><circle cx="274.4" cy="256.9" r="0.76" fill="#b8c4d8"/><circle cx="278.7" cy="258.4" r="0.99" fill="#b8c4d8"/></g>
<filter id="tx4" x="284.00" y="224.00" width="54.80" height="36.60" filterUnits="userSpaceOnUse" primitiveUnits="userSpaceOnUse" color-interpolation-filters="sRGB"><feTurbulence type="fractalNoise" baseFrequency="0.4" numOctaves="2" seed="9"/><feColorMatrix type="matrix" values="0.593 0 0 0 0.441 0.762 0 0 0 0.144 0.805 0 0 0 -0.006 0 0 0 0 1"/></filter>
<rect x="284.00" y="224.00" width="54.80" height="36.60" fill="#000" filter="url(#tx4)"/>
<g opacity="0.45"><circle cx="291.4" cy="226.3" r="0.96" fill="#b8bccc"/><circle cx="306.3" cy="225.0" r="0.90" fill="#b8bccc"/><circle cx="309.1" cy="226.1" r="1.08" fill="#b8bccc"/><circle cx="312.4" cy="225.4" r="1.06" fill="#b8bccc"/><circle cx="315.4" cy="225.0" r="1.00" fill="#b8bccc"/><circle cx="318.5" cy="225.1" r="0.87" fill="#b8bccc"/><circle cx="322.4" cy="225.1" r="0.87" fill="#b8bccc"/><circle cx="332.7" cy="225.5" r="0.86" fill="#b8bccc"/><circle cx="286.5" cy="227.9" r="0.89" fill="#b8bccc"/><circle cx="289.6" cy="228.8" r="0.89" fill="#b8bccc"/><circle cx="292.5" cy="228.1" r="1.09" fill="#b8bccc"/><circle cx="295.9" cy="228.5" r="1.08" fill="#b8bccc"/><circle cx="300.0" cy="228.5" r="0.85" fill="#b8bccc"/><circle cx="303.3" cy="228.5" r="0.94" fill="#b8bccc"/><circle cx="306.7" cy="228.3" r="0.91" fill="#b8bccc"/><circle cx="311.0" cy="227.4" r="0.74" fill="#b8bccc"/><circle cx="313.4" cy="227.8" r="1.02" fill="#b8bccc"/><circle cx="317.2" cy="229.1" r="0.86" fill="#b8bccc"/><circle cx="320.3" cy="228.7" r="0.73" fill="#b8bccc"/><circle cx="325.1" cy="229.0" r="0.83" fill="#b8bccc"/><circle cx="327.1" cy="229.0" r="1.02" fill="#b8bccc"/><circle cx="331.2" cy="227.4" r="1.01" fill="#b8bccc"/><circle cx="333.4" cy="228.6" r="0.92" fill="#b8bccc"/><circle cx="288.9" cy="231.4" r="0.70" fill="#b8bccc"/><circle cx="292.3" cy="231.1" r="0.97" fill="#b8bccc"/><circle cx="296.2" cy="232.1" r="0.73" fill="#b8bccc"/><circle cx="299.2" cy="231.2" r="1.00" fill="#b8bccc"/><circle cx="301.8" cy="231.2" r="0.87" fill="#b8bccc"/><circle cx="304.6" cy="230.9" r="0.99" fill="#b8bccc"/><circle cx="307.9" cy="230.5" r="1.03" fill="#b8bccc"/><circle cx="312.6" cy="231.4" r="0.75" fill="#b8bccc"/><circle cx="314.8" cy="230.9" r="1.08" fill="#b8bccc"/><circle cx="319.1" cy="232.1" r="0.78" fill="#b8bccc"/><circle cx="322.2" cy="231.4" r="1.04" fill="#b8bccc"/><circle cx="325.1" cy="232.0" r="0.89" fill="#b8bccc"/><circle cx="328.3" cy="231.1" r="0.85" fill="#b8bccc"/><circle cx="333.0" cy="232.1" r="0.90" fill="#b8bccc"/><circle cx="336.4" cy="231.0" r="1.01" fill="#b8bccc"/><circle cx="285.9" cy="234.7" r="0.77" fill="#b8bccc"/><circle cx="290.3" cy="233.6" r="0.84" fill="#b8bccc"/><circle cx="292.8" cy="233.9" r="0.94" fill="#b8bccc"/><circle cx="297.0" cy="234.0" r="0.93" fill="#b8bccc"/><circle cx="301.0" cy="233.9" r="0.93" fill="#b8bccc"/><circle cx="303.7" cy="235.2" r="0.83" fill="#b8bccc"/><circle cx="307.5" cy="233.7" r="0.80" fill="#b8bccc"/><circle cx="311.0" cy="234.4" r="0.80" fill="#b8bccc"/><circle cx="313.0" cy="234.9" r="0.85" fill="#b8bccc"/><circle cx="317.8" cy="234.1" r="0.95" fill="#b8bccc"/><circle cx="320.8" cy="235.2" r="1.06" fill="#b8bccc"/><circle cx="324.0" cy="234.2" r="0.79" fill="#b8bccc"/><circle cx="328.0" cy="233.4" r="0.82" fill="#b8bccc"/><circle cx="331.6" cy="233.3" r="0.98" fill="#b8bccc"/><circle cx="334.5" cy="234.3" r="0.83" fill="#b8bccc"/><circle cx="337.0" cy="235.2" r="1.01" fill="#b8bccc"/><circle cx="285.6" cy="236.4" r="1.01" fill="#b8bccc"/><circle cx="287.8" cy="236.6" r="0.91" fill="#b8bccc"/><circle cx="292.0" cy="236.4" r="1.01" fill="#b8bccc"/><circle cx="295.4" cy="238.0" r="1.07" fill="#b8bccc"/><circle cx="299.0" cy="236.9" r="1.08" fill="#b8bccc"/><circle cx="302.5" cy="236.8" r="1.04" fill="#b8bccc"/><circle cx="305.9" cy="236.7" r="0.80" fill="#b8bccc"/><circle cx="307.8" cy="237.3" r="0.80" fill="#b8bccc"/><circle cx="311.8" cy="236.7" r="0.75" fill="#b8bccc"/><circle cx="315.6" cy="236.7" r="0.81" fill="#b8bccc"/><circle cx="318.6" cy="237.2" r="1.05" fill="#b8bccc"/><circle cx="321.7" cy="237.9" r="1.04" fill="#b8bccc"/><circle cx="326.0" cy="237.3" r="0.99" fill="#b8bccc"/><circle cx="329.3" cy="237.5" r="1.07" fill="#b8bccc"/><circle cx="333.2" cy="236.7" r="0.72" fill="#b8bccc"/><circle cx="336.9" cy="236.9" r="1.01" fill="#b8bccc"/><circle cx="286.2" cy="240.1" r="0.85" fill="#b8bccc"/><circle cx="290.6" cy="241.1" r="0.90" fill="#b8bccc"/><circle cx="293.7" cy="239.8" r="0.79" fill="#b8bccc"/><circle cx="297.8" cy="239.4" r="1.08" fill="#b8bccc"/><circle cx="300.6" cy="239.3" r="1.06" fill="#b8bccc"/><circle cx="302.9" cy="240.3" r="0.75" fill="#b8bccc"/><circle cx="308.1" cy="239.8" r="1.05" fill="#b8bccc"/><circle cx="309.6" cy="240.5" r="0.73" fill="#b8bccc"/><circle cx="313.0" cy="240.3" r="1.09" fill="#b8bccc"/><circle cx="317.7" cy="240.9" r="1.01" fill="#b8bccc"/><circle cx="320.8" cy="239.3" r="0.91" fill="#b8bccc"/><circle cx="323.5" cy="240.2" r="0.84" fill="#b8bccc"/><circle cx="327.5" cy="239.5" r="0.98" fill="#b8bccc"/><circle cx="330.8" cy="240.1" r="0.73" fill="#b8bccc"/><circle cx="334.3" cy="240.3" r="1.09" fill="#b8bccc"/><circle cx="337.8" cy="239.4" r="0.82" fill="#b8bccc"/><circle cx="284.7" cy="243.5" r="1.08" fill="#b8bccc"/><circle cx="289.4" cy="244.0" r="1.07" fill="#b8bccc"/><circle cx="292.6" cy="244.0" r="0.71" fill="#b8bccc"/><circle cx="295.2" cy="243.3" r="0.97" fill="#b8bccc"/><circle cx="298.8" cy="243.3" r="1.07" fill="#b8bccc"/><circle cx="301.2" cy="243.1" r="1.08" fill="#b8bccc"/><circle cx="304.5" cy="242.3" r="1.05" fill="#b8bccc"/><circle cx="309.8" cy="242.1" r="0.71" fill="#b8bccc"/><circle cx="312.9" cy="243.5" r="0.91" fill="#b8bccc"/><circle cx="315.8" cy="243.6" r="1.02" fill="#b8bccc"/><circle cx="318.0" cy="242.2" r="1.02" fill="#b8bccc"/><circle cx="323.4" cy="243.8" r="0.86" fill="#b8bccc"/><circle cx="325.5" cy="242.8" r="0.71" fill="#b8bccc"/><circle cx="329.8" cy="242.6" r="0.93" fill="#b8bccc"/><circle cx="332.7" cy="242.8" r="0.97" fill="#b8bccc"/><circle cx="335.9" cy="242.6" r="1.05" fill="#b8bccc"/><circle cx="286.1" cy="245.4" r="0.80" fill="#b8bccc"/><circle cx="290.1" cy="246.6" r="0.83" fill="#b8bccc"/><circle cx="293.0" cy="246.4" r="0.80" fill="#b8bccc"/><circle cx="297.0" cy="245.6" r="1.05" fill="#b8bccc"/><circle cx="299.7" cy="245.5" r="0.82" fill="#b8bccc"/><circle cx="303.4" cy="246.5" r="0.97" fill="#b8bccc"/><circle cx="307.7" cy="246.1" r="0.73" fill="#b8bccc"/><circle cx="311.1" cy="245.5" r="0.79" fill="#b8bccc"/><circle cx="313.7" cy="247.1" r="0.85" fill="#b8bccc"/><circle cx="317.0" cy="246.9" r="1.10" fill="#b8bccc"/><circle cx="320.5" cy="245.3" r="1.02" fill="#b8bccc"/><circle cx="324.7" cy="245.7" r="1.02" fill="#b8bccc"/><circle cx="327.3" cy="245.6" r="0.94" fill="#b8bccc"/><circle cx="331.4" cy="246.0" r="1.03" fill="#b8bccc"/><circle cx="333.3" cy="246.1" r="0.85" fill="#b8bccc"/><circle cx="336.8" cy="246.9" r="0.76" fill="#b8bccc"/><circle cx="289.4" cy="249.9" r="0.84" fill="#b8bccc"/><circle cx="292.7" cy="248.3" r="0.99" fill="#b8bccc"/><circle cx="296.1" cy="248.4" r="0.75" fill="#b8bccc"/><circle cx="299.0" cy="249.8" r="0.99" fill="#b8bccc"/><circle cx="302.9" cy="248.9" r="0.85" fill="#b8bccc"/><circle cx="304.6" cy="248.6" r="1.08" fill="#b8bccc"/><circle cx="307.9" cy="248.4" r="0.84" fill="#b8bccc"/><circle cx="311.3" cy="248.6" r="0.77" fill="#b8bccc"/><circle cx="314.9" cy="249.1" r="0.92" fill="#b8bccc"/><circle cx="319.2" cy="249.6" r="0.91" fill="#b8bccc"/><circle cx="323.3" cy="248.2" r="0.79" fill="#b8bccc"/><circle cx="325.0" cy="248.6" r="1.00" fill="#b8bccc"/><circle cx="330.1" cy="249.0" r="0.76" fill="#b8bccc"/><circle cx="332.3" cy="249.2" r="0.82" fill="#b8bccc"/><circle cx="336.6" cy="250.0" r="0.88" fill="#b8bccc"/><circle cx="286.9" cy="252.7" r="0.89" fill="#b8bccc"/><circle cx="289.5" cy="252.9" r="1.09" fill="#b8bccc"/><circle cx="292.5" cy="252.5" r="0.86" fill="#b8bccc"/><circle cx="296.0" cy="251.3" r="0.77" fill="#b8bccc"/><circle cx="300.8" cy="251.4" r="0.71" fill="#b8bccc"/><circle cx="303.1" cy="252.6" r="0.90" fill="#b8bccc"/><circle cx="307.4" cy="251.9" r="0.77" fill="#b8bccc"/><circle cx="309.5" cy="251.6" r="0.72" fill="#b8bccc"/><circle cx="313.4" cy="252.2" r="0.85" fill="#b8bccc"/><circle cx="317.3" cy="252.2" r="0.83" fill="#b8bccc"/><circle cx="320.4" cy="252.8" r="0.93" fill="#b8bccc"/><circle cx="324.0" cy="252.1" r="0.88" fill="#b8bccc"/><circle cx="327.2" cy="252.8" r="0.79" fill="#b8bccc"/><circle cx="331.8" cy="252.7" r="1.05" fill="#b8bccc"/><circle cx="333.6" cy="252.0" r="1.09" fill="#b8bccc"/><circle cx="337.3" cy="251.3" r="0.99" fill="#b8bccc"/><circle cx="287.7" cy="255.9" r="0.81" fill="#b8bccc"/><circle cx="291.0" cy="255.3" r="0.84" fill="#b8bccc"/><circle cx="295.3" cy="254.9" r="1.07" fill="#b8bccc"/><circle cx="298.6" cy="254.7" r="0.70" fill="#b8bccc"/><circle cx="302.0" cy="254.5" r="0.93" fill="#b8bccc"/><circle cx="305.7" cy="254.9" r="0.74" fill="#b8bccc"/><circle cx="308.8" cy="254.9" r="0.96" fill="#b8bccc"/><circle cx="313.2" cy="254.5" r="0.88" fill="#b8bccc"/><circle cx="314.8" cy="255.6" r="0.79" fill="#b8bccc"/><circle cx="319.7" cy="255.5" r="0.80" fill="#b8bccc"/><circle cx="323.2" cy="254.9" r="0.87" fill="#b8bccc"/><circle cx="325.9" cy="255.8" r="0.90" fill="#b8bccc"/><circle cx="329.2" cy="254.5" r="1.04" fill="#b8bccc"/><circle cx="332.6" cy="254.6" r="0.78" fill="#b8bccc"/><circle cx="335.4" cy="255.6" r="1.02" fill="#b8bccc"/><circle cx="287.7" cy="258.7" r="0.97" fill="#b8bccc"/><circle cx="290.7" cy="258.3" r="1.02" fill="#b8bccc"/><circle cx="294.1" cy="257.2" r="1.03" fill="#b8bccc"/><circle cx="296.5" cy="257.4" r="1.07" fill="#b8bccc"/><circle cx="299.3" cy="257.9" r="0.84" fill="#b8bccc"/><circle cx="304.3" cy="258.1" r="1.06" fill="#b8bccc"/><circle cx="308.0" cy="258.2" r="0.73" fill="#b8bccc"/><circle cx="310.9" cy="257.1" r="1.09" fill="#b8bccc"/><circle cx="314.7" cy="257.5" r="0.77" fill="#b8bccc"/><circle cx="317.7" cy="258.4" r="1.09" fill="#b8bccc"/><circle cx="321.0" cy="257.1" r="0.99" fill="#b8bccc"/><circle cx="323.2" cy="258.6" r="1.01" fill="#b8bccc"/><circle cx="328.1" cy="258.7" r="0.93" fill="#b8bccc"/><circle cx="331.8" cy="258.2" r="0.90" fill="#b8bccc"/><circle cx="334.1" cy="257.6" r="0.71" fill="#b8bccc"/><circle cx="337.0" cy="258.5" r="0.79" fill="#b8bccc"/></g>
<filter id="tx5" x="224.30" y="264.40" width="55.00" height="36.40" filterUnits="userSpaceOnUse" primitiveUnits="userSpaceOnUse" color-interpolation-filters="sRGB"><feTurbulence type="fractalNoise" baseFrequency="0.3" numOctaves="2" seed="11"/><feColorMatrix type="matrix" values="0.351 0 0 0 0.656 0.678 0 0 0 0.312 0.853 0 0 0 0.122 0 0 0 0 1"/></filter>
<rect x="224.30" y="264.40" width="55.00" height="36.40" fill="#000" filter="url(#tx5)"/>
<g opacity="0.6"><circle cx="225.6" cy="266.3" r="0.98" fill="#a8bcd8"/><circle cx="228.6" cy="265.4" r="0.81" fill="#a8bcd8"/><circle cx="231.3" cy="266.0" r="0.97" fill="#a8bcd8"/><circle cx="236.1" cy="265.4" r="1.07" fill="#a8bcd8"/><circle cx="239.3" cy="265.3" r="1.08" fill="#a8bcd8"/><circle cx="242.0" cy="266.6" r="1.01" fill="#a8bcd8"/><circle cx="244.8" cy="265.3" r="0.91" fill="#a8bcd8"/><circle cx="252.4" cy="265.8" r="0.89" fill="#a8bcd8"/><circle cx="255.5" cy="265.2" r="0.78" fill="#a8bcd8"/><circle cx="258.4" cy="265.2" r="0.83" fill="#a8bcd8"/><circle cx="264.6" cy="265.8" r="1.08" fill="#a8bcd8"/><circle cx="268.5" cy="265.6" r="0.86" fill="#a8bcd8"/><circle cx="271.0" cy="265.7" r="1.08" fill="#a8bcd8"/><circle cx="274.0" cy="265.6" r="0.97" fill="#a8bcd8"/><circle cx="278.6" cy="265.8" r="0.96" fill="#a8bcd8"/><circle cx="227.8" cy="269.4" r="0.80" fill="#a8bcd8"/><circle cx="230.3" cy="269.6" r="0.91" fill="#a8bcd8"/><circle cx="232.9" cy="269.1" r="0.72" fill="#a8bcd8"/><circle cx="236.1" cy="268.7" r="0.81" fill="#a8bcd8"/><circle cx="240.6" cy="269.0" r="0.83" fill="#a8bcd8"/><circle cx="244.0" cy="268.9" r="0.98" fill="#a8bcd8"/><circle cx="246.7" cy="268.5" r="0.74" fill="#a8bcd8"/><circle cx="250.0" cy="269.5" r="1.06" fill="#a8bcd8"/><circle cx="252.5" cy="267.7" r="0.81" fill="#a8bcd8"/><circle cx="257.0" cy="268.5" r="0.75" fill="#a8bcd8"/><circle cx="259.8" cy="268.7" r="1.00" fill="#a8bcd8"/><circle cx="263.0" cy="268.9" r="0.97" fill="#a8bcd8"/><circle cx="266.8" cy="267.7" r="0.98" fill="#a8bcd8"/><circle cx="269.1" cy="267.7" r="0.89" fill="#a8bcd8"/><circle cx="272.2" cy="267.7" r="0.86" fill="#a8bcd8"/><circle cx="276.4" cy="267.8" r="1.08" fill="#a8bcd8"/><circle cx="226.0" cy="271.4" r="0.94" fill="#a8bcd8"/><circle cx="228.2" cy="272.4" r="0.75" fill="#a8bcd8"/><circle cx="231.5" cy="270.9" r="1.05" fill="#a8bcd8"/><circle cx="235.2" cy="271.3" r="0.86" fill="#a8bcd8"/><circle cx="239.3" cy="271.0" r="1.02" fill="#a8bcd8"/><circle cx="242.2" cy="271.4" r="0.85" fill="#a8bcd8"/><circle cx="245.0" cy="271.4" r="0.83" fill="#a8bcd8"/><circle cx="248.6" cy="271.3" r="0.82" fill="#a8bcd8"/><circle cx="252.2" cy="271.4" r="0.89" fill="#a8bcd8"/><circle cx="255.7" cy="271.4" r="0.85" fill="#a8bcd8"/><circle cx="259.1" cy="272.4" r="1.01" fill="#a8bcd8"/><circle cx="261.4" cy="271.8" r="1.00" fill="#a8bcd8"/><circle cx="264.5" cy="271.9" r="1.08" fill="#a8bcd8"/><circle cx="268.5" cy="271.8" r="0.87" fill="#a8bcd8"/><circle cx="271.8" cy="270.9" r="1.01" fill="#a8bcd8"/><circle cx="274.9" cy="272.4" r="0.84" fill="#a8bcd8"/><circle cx="278.5" cy="270.5" r="0.87" fill="#a8bcd8"/><circle cx="227.5" cy="273.9" r="0.95" fill="#a8bcd8"/><circle cx="229.7" cy="274.1" r="1.10" fill="#a8bcd8"/><circle cx="232.9" cy="275.2" r="0.72" fill="#a8bcd8"/><circle cx="237.0" cy="275.0" r="1.03" fill="#a8bcd8"/><circle cx="239.9" cy="274.5" r="0.98" fill="#a8bcd8"/><circle cx="244.0" cy="274.8" r="0.93" fill="#a8bcd8"/><circle cx="246.2" cy="274.7" r="0.92" fill="#a8bcd8"/><circle cx="250.1" cy="275.3" r="0.75" fill="#a8bcd8"/><circle cx="253.9" cy="274.0" r="0.99" fill="#a8bcd8"/><circle cx="257.5" cy="273.9" r="0.93" fill="#a8bcd8"/><circle cx="260.0" cy="274.3" r="0.77" fill="#a8bcd8"/><circle cx="263.5" cy="275.1" r="0.97" fill="#a8bcd8"/><circle cx="266.1" cy="274.9" r="0.87" fill="#a8bcd8"/><circle cx="269.1" cy="274.5" r="0.88" fill="#a8bcd8"/><circle cx="273.2" cy="275.3" r="0.93" fill="#a8bcd8"/><circle cx="277.3" cy="274.0" r="1.00" fill="#a8bcd8"/><circle cx="229.0" cy="277.6" r="1.03" fill="#a8bcd8"/><circle cx="231.7" cy="276.8" r="0.84" fill="#a8bcd8"/><circle cx="235.3" cy="276.3" r="0.85" fill="#a8bcd8"/><circle cx="238.8" cy="276.5" r="0.82" fill="#a8bcd8"/><circle cx="242.5" cy="278.1" r="0.80" fill="#a8bcd8"/><circle cx="244.5" cy="276.4" r="0.73" fill="#a8bcd8"/><circle cx="249.0" cy="277.7" r="0.81" fill="#a8bcd8"/><circle cx="251.7" cy="277.6" r="0.71" fill="#a8bcd8"/><circle cx="255.6" cy="277.9" r="0.78" fill="#a8bcd8"/><circle cx="258.7" cy="277.6" r="0.83" fill="#a8bcd8"/><circle cx="262.3" cy="276.6" r="0.89" fill="#a8bcd8"/><circle cx="264.5" cy="277.1" r="1.02" fill="#a8bcd8"/><circle cx="268.3" cy="277.4" r="1.09" fill="#a8bcd8"/><circle cx="270.9" cy="276.7" r="0.95" fill="#a8bcd8"/><circle cx="274.1" cy="278.1" r="0.84" fill="#a8bcd8"/><circle cx="278.0" cy="277.1" r="1.03" fill="#a8bcd8"/><circle cx="227.8" cy="280.4" r="0.77" fill="#a8bcd8"/><circle cx="230.0" cy="280.5" r="0.79" fill="#a8bcd8"/><circle cx="234.3" cy="280.8" r="0.79" fill="#a8bcd8"/><circle cx="236.6" cy="279.5" r="0.99" fill="#a8bcd8"/><circle cx="239.2" cy="280.5" r="0.73" fill="#a8bcd8"/><circle cx="244.1" cy="280.2" r="0.93" fill="#a8bcd8"/><circle cx="245.9" cy="279.2" r="0.84" fill="#a8bcd8"/><circle cx="251.0" cy="280.3" r="1.04" fill="#a8bcd8"/><circle cx="252.5" cy="279.3" r="0.71" fill="#a8bcd8"/><circle cx="257.0" cy="279.4" r="0.81" fill="#a8bcd8"/><circle cx="260.3" cy="280.5" r="0.83" fill="#a8bcd8"/><circle cx="263.2" cy="279.7" r="0.92" fill="#a8bcd8"/><circle cx="266.3" cy="279.8" r="0.80" fill="#a8bcd8"/><circle cx="269.4" cy="279.6" r="0.71" fill="#a8bcd8"/><circle cx="272.8" cy="280.3" r="0.81" fill="#a8bcd8"/><circle cx="275.7" cy="280.8" r="0.89" fill="#a8bcd8"/><circle cx="225.3" cy="282.6" r="1.05" fill="#a8bcd8"/><circle cx="229.1" cy="283.2" r="0.96" fill="#a8bcd8"/><circle cx="232.3" cy="282.9" r="0.87" fill="#a8bcd8"/><circle cx="235.0" cy="283.0" r="0.89" fill="#a8bcd8"/><circle cx="238.5" cy="283.0" r="1.02" fill="#a8bcd8"/><circle cx="242.6" cy="282.4" r="0.71" fill="#a8bcd8"/><circle cx="244.7" cy="282.0" r="1.02" fill="#a8bcd8"/><circle cx="248.6" cy="282.5" r="0.78" fill="#a8bcd8"/><circle cx="252.4" cy="283.6" r="0.97" fill="#a8bcd8"/><circle cx="255.4" cy="283.4" r="0.88" fill="#a8bcd8"/><circle cx="258.1" cy="283.1" r="1.05" fill="#a8bcd8"/><circle cx="262.6" cy="283.8" r="1.03" fill="#a8bcd8"/><circle cx="264.0" cy="282.4" r="1.09" fill="#a8bcd8"/><circle cx="268.3" cy="283.0" r="0.82" fill="#a8bcd8"/><circle cx="272.2" cy="283.0" r="1.10" fill="#a8bcd8"/><circle cx="273.9" cy="283.9" r="0.71" fill="#a8bcd8"/><circle cx="277.4" cy="282.7" r="0.96" fill="#a8bcd8"/><circle cx="226.2" cy="285.9" r="1.08" fill="#a8bcd8"/><circle cx="230.1" cy="286.3" r="0.94" fill="#a8bcd8"/><circle cx="233.7" cy="285.2" r="0.89" fill="#a8bcd8"/><circle cx="237.6" cy="286.2" r="0.79" fill="#a8bcd8"/><circle cx="240.0" cy="285.9" r="0.83" fill="#a8bcd8"/><circle cx="243.6" cy="286.1" r="0.71" fill="#a8bcd8"/><circle cx="246.2" cy="286.1" r="0.79" fill="#a8bcd8"/><circle cx="249.2" cy="286.3" r="0.83" fill="#a8bcd8"/><circle cx="254.2" cy="285.9" r="0.74" fill="#a8bcd8"/><circle cx="256.9" cy="285.3" r="1.03" fill="#a8bcd8"/><circle cx="260.4" cy="286.3" r="0.72" fill="#a8bcd8"/><circle cx="262.3" cy="286.4" r="0.76" fill="#a8bcd8"/><circle cx="265.9" cy="284.9" r="0.77" fill="#a8bcd8"/><circle cx="269.8" cy="286.7" r="0.83" fill="#a8bcd8"/><circle cx="272.7" cy="286.5" r="0.77" fill="#a8bcd8"/><circle cx="276.7" cy="286.0" r="1.07" fill="#a8bcd8"/><circle cx="228.4" cy="289.3" r="0.80" fill="#a8bcd8"/><circle cx="232.3" cy="288.1" r="0.90" fill="#a8bcd8"/><circle cx="236.1" cy="288.2" r="0.81" fill="#a8bcd8"/><circle cx="239.3" cy="289.0" r="0.73" fill="#a8bcd8"/><circle cx="241.2" cy="288.2" r="0.82" fill="#a8bcd8"/><circle cx="245.8" cy="289.1" r="1.09" fill="#a8bcd8"/><circle cx="248.7" cy="288.9" r="0.85" fill="#a8bcd8"/><circle cx="252.1" cy="288.7" r="0.72" fill="#a8bcd8"/><circle cx="255.0" cy="288.5" r="0.91" fill="#a8bcd8"/><circle cx="257.4" cy="287.8" r="1.09" fill="#a8bcd8"/><circle cx="261.3" cy="288.4" r="0.76" fill="#a8bcd8"/><circle cx="265.1" cy="289.5" r="0.77" fill="#a8bcd8"/><circle cx="268.2" cy="288.7" r="1.01" fill="#a8bcd8"/><circle cx="271.6" cy="288.2" r="0.78" fill="#a8bcd8"/><circle cx="275.2" cy="287.9" r="1.05" fill="#a8bcd8"/><circle cx="277.2" cy="288.1" r="0.89" fill="#a8bcd8"/><circle cx="227.6" cy="291.8" r="1.00" fill="#a8bcd8"/><circle cx="230.8" cy="292.0" r="0.72" fill="#a8bcd8"/><circle cx="234.2" cy="290.9" r="0.76" fill="#a8bcd8"/><circle cx="235.9" cy="290.6" r="1.05" fill="#a8bcd8"/><circle cx="239.9" cy="290.7" r="0.72" fill="#a8bcd8"/><circle cx="244.1" cy="291.8" r="1.07" fill="#a8bcd8"/><circle cx="245.8" cy="290.8" r="0.81" fill="#a8bcd8"/><circle cx="249.4" cy="290.8" r="0.78" fill="#a8bcd8"/><circle cx="253.6" cy="290.9" r="0.77" fill="#a8bcd8"/><circle cx="256.7" cy="291.3" r="0.76" fill="#a8bcd8"/><circle cx="260.1" cy="291.6" r="0.86" fill="#a8bcd8"/><circle cx="263.2" cy="290.6" r="0.95" fill="#a8bcd8"/><circle cx="265.9" cy="291.2" r="0.70" fill="#a8bcd8"/><circle cx="270.6" cy="291.7" r="0.86" fill="#a8bcd8"/><circle cx="273.2" cy="292.4" r="0.75" fill="#a8bcd8"/><circle cx="276.2" cy="292.0" r="0.85" fill="#a8bcd8"/><circle cx="225.7" cy="295.2" r="0.72" fill="#a8bcd8"/><circle cx="228.2" cy="294.0" r="1.00" fill="#a8bcd8"/><circle cx="232.5" cy="294.8" r="1.07" fill="#a8bcd8"/><circle cx="234.6" cy="294.2" r="1.04" fill="#a8bcd8"/><circle cx="239.0" cy="293.7" r="1.09" fill="#a8bcd8"/><circle cx="242.3" cy="295.2" r="0.84" fill="#a8bcd8"/><circle cx="245.3" cy="295.3" r="1.06" fill="#a8bcd8"/><circle cx="248.5" cy="295.2" r="1.10" fill="#a8bcd8"/><circle cx="252.4" cy="294.7" r="1.08" fill="#a8bcd8"/><circle cx="254.3" cy="294.2" r="0.93" fill="#a8bcd8"/><circle cx="257.6" cy="295.0" r="0.72" fill="#a8bcd8"/><circle cx="261.8" cy="294.0" r="0.83" fill="#a8bcd8"/><circle cx="265.1" cy="293.8" r="0.88" fill="#a8bcd8"/><circle cx="268.9" cy="295.4" r="0.81" fill="#a8bcd8"/><circle cx="271.2" cy="294.8" r="0.78" fill="#a8bcd8"/><circle cx="275.5" cy="293.8" r="0.92" fill="#a8bcd8"/><circle cx="277.8" cy="293.4" r="0.70" fill="#a8bcd8"/><circle cx="226.0" cy="297.0" r="0.81" fill="#a8bcd8"/><circle cx="231.2" cy="297.6" r="0.73" fill="#a8bcd8"/><circle cx="234.0" cy="296.8" r="0.89" fill="#a8bcd8"/><circle cx="237.3" cy="298.0" r="1.07" fill="#a8bcd8"/><circle cx="240.0" cy="296.9" r="0.86" fill="#a8bcd8"/><circle cx="243.1" cy="297.8" r="0.89" fill="#a8bcd8"/><circle cx="247.1" cy="296.6" r="1.01" fill="#a8bcd8"/><circle cx="251.0" cy="296.7" r="0.95" fill="#a8bcd8"/><circle cx="252.7" cy="296.4" r="0.87" fill="#a8bcd8"/><circle cx="256.0" cy="297.8" r="0.93" fill="#a8bcd8"/><circle cx="260.3" cy="298.2" r="0.72" fill="#a8bcd8"/><circle cx="262.4" cy="296.4" r="0.88" fill="#a8bcd8"/><circle cx="267.2" cy="297.7" r="0.92" fill="#a8bcd8"/><circle cx="270.5" cy="297.0" r="0.75" fill="#a8bcd8"/><circle cx="273.4" cy="296.4" r="0.79" fill="#a8bcd8"/><circle cx="275.5" cy="296.6" r="0.73" fill="#a8bcd8"/><circle cx="225.4" cy="299.4" r="0.94" fill="#a8bcd8"/><circle cx="229.2" cy="299.9" r="0.75" fill="#a8bcd8"/><circle cx="248.7" cy="300.1" r="0.70" fill="#a8bcd8"/><circle cx="251.6" cy="299.7" r="0.94" fill="#a8bcd8"/><circle cx="255.0" cy="300.2" r="0.72" fill="#a8bcd8"/><circle cx="265.5" cy="299.8" r="0.88" fill="#a8bcd8"/><circle cx="274.8" cy="300.0" r="0.89" fill="#a8bcd8"/></g>
<filter id="tx6" x="284.00" y="264.40" width="54.80" height="36.40" filterUnits="userSpaceOnUse" primitiveUnits="userSpaceOnUse" color-interpolation-filters="sRGB"><feTurbulence type="fractalNoise" baseFrequency="0.22" numOctaves="3" seed="13"/><feColorMatrix type="matrix" values="0.176 0 0 0 0.798 0.251 0 0 0 0.706 0.276 0 0 0 0.685 0 0 0 0 1"/></filter>
<rect x="284.00" y="264.40" width="54.80" height="36.40" fill="#000" filter="url(#tx6)"/>
<g opacity="0.72"><circle cx="287.0" cy="265.9" r="0.75" fill="#9aa4c8"/><circle cx="290.1" cy="265.4" r="0.91" fill="#9aa4c8"/><circle cx="294.0" cy="265.5" r="0.80" fill="#9aa4c8"/><circle cx="296.2" cy="266.2" r="0.77" fill="#9aa4c8"/><circle cx="298.5" cy="266.2" r="0.87" fill="#9aa4c8"/><circle cx="305.8" cy="266.0" r="0.72" fill="#9aa4c8"/><circle cx="308.4" cy="265.1" r="0.86" fill="#9aa4c8"/><circle cx="314.6" cy="265.3" r="0.75" fill="#9aa4c8"/><circle cx="318.9" cy="265.8" r="0.86" fill="#9aa4c8"/><circle cx="323.3" cy="266.1" r="0.77" fill="#9aa4c8"/><circle cx="324.7" cy="265.7" r="0.86" fill="#9aa4c8"/><circle cx="328.0" cy="266.3" r="0.77" fill="#9aa4c8"/><circle cx="334.9" cy="266.3" r="0.92" fill="#9aa4c8"/><circle cx="336.8" cy="265.9" r="1.02" fill="#9aa4c8"/><circle cx="286.8" cy="267.3" r="0.88" fill="#9aa4c8"/><circle cx="288.6" cy="268.2" r="1.03" fill="#9aa4c8"/><circle cx="292.8" cy="267.6" r="0.89" fill="#9aa4c8"/><circle cx="294.7" cy="267.5" r="0.96" fill="#9aa4c8"/><circle cx="298.4" cy="267.8" r="0.85" fill="#9aa4c8"/><circle cx="301.2" cy="268.5" r="0.86" fill="#9aa4c8"/><circle cx="303.1" cy="267.4" r="0.76" fill="#9aa4c8"/><circle cx="307.2" cy="268.1" r="0.93" fill="#9aa4c8"/><circle cx="309.3" cy="267.9" r="0.76" fill="#9aa4c8"/><circle cx="313.2" cy="268.3" r="0.75" fill="#9aa4c8"/><circle cx="315.7" cy="268.3" r="0.91" fill="#9aa4c8"/><circle cx="318.7" cy="268.3" r="1.01" fill="#9aa4c8"/><circle cx="321.9" cy="267.9" r="0.93" fill="#9aa4c8"/><circle cx="323.8" cy="267.9" r="0.83" fill="#9aa4c8"/><circle cx="327.2" cy="267.8" r="0.82" fill="#9aa4c8"/><circle cx="330.4" cy="268.6" r="0.94" fill="#9aa4c8"/><circle cx="333.3" cy="267.9" r="0.92" fill="#9aa4c8"/><circle cx="335.2" cy="267.8" r="0.74" fill="#9aa4c8"/><circle cx="287.1" cy="270.0" r="0.92" fill="#9aa4c8"/><circle cx="291.4" cy="269.9" r="0.79" fill="#9aa4c8"/><circle cx="294.0" cy="270.1" r="1.01" fill="#9aa4c8"/><circle cx="296.2" cy="270.6" r="0.77" fill="#9aa4c8"/><circle cx="299.0" cy="270.5" r="0.80" fill="#9aa4c8"/><circle cx="302.7" cy="269.8" r="0.92" fill="#9aa4c8"/><circle cx="305.7" cy="270.3" r="0.77" fill="#9aa4c8"/><circle cx="307.4" cy="269.9" r="0.98" fill="#9aa4c8"/><circle cx="311.1" cy="269.8" r="0.86" fill="#9aa4c8"/><circle cx="314.0" cy="270.3" r="0.71" fill="#9aa4c8"/><circle cx="316.6" cy="270.4" r="1.04" fill="#9aa4c8"/><circle cx="319.4" cy="271.3" r="1.00" fill="#9aa4c8"/><circle cx="322.7" cy="270.0" r="0.98" fill="#9aa4c8"/><circle cx="324.8" cy="270.7" r="0.73" fill="#9aa4c8"/><circle cx="327.7" cy="270.5" r="0.75" fill="#9aa4c8"/><circle cx="332.1" cy="270.7" r="1.01" fill="#9aa4c8"/><circle cx="335.0" cy="271.1" r="0.93" fill="#9aa4c8"/><circle cx="337.0" cy="271.1" r="0.93" fill="#9aa4c8"/><circle cx="285.7" cy="273.2" r="0.84" fill="#9aa4c8"/><circle cx="289.2" cy="273.5" r="0.94" fill="#9aa4c8"/><circle cx="292.2" cy="273.6" r="0.99" fill="#9aa4c8"/><circle cx="294.3" cy="272.5" r="0.72" fill="#9aa4c8"/><circle cx="297.3" cy="273.9" r="0.81" fill="#9aa4c8"/><circle cx="300.7" cy="273.1" r="0.90" fill="#9aa4c8"/><circle cx="303.3" cy="273.6" r="0.82" fill="#9aa4c8"/><circle cx="307.2" cy="273.7" r="0.70" fill="#9aa4c8"/><circle cx="309.6" cy="272.4" r="1.01" fill="#9aa4c8"/><circle cx="311.7" cy="272.7" r="0.97" fill="#9aa4c8"/><circle cx="315.5" cy="273.4" r="0.84" fill="#9aa4c8"/><circle cx="318.3" cy="272.6" r="0.86" fill="#9aa4c8"/><circle cx="320.7" cy="273.4" r="0.74" fill="#9aa4c8"/><circle cx="323.4" cy="272.6" r="0.89" fill="#9aa4c8"/><circle cx="327.1" cy="272.3" r="1.05" fill="#9aa4c8"/><circle cx="330.4" cy="272.9" r="0.76" fill="#9aa4c8"/><circle cx="333.3" cy="274.0" r="0.76" fill="#9aa4c8"/><circle cx="336.1" cy="273.7" r="1.03" fill="#9aa4c8"/><circle cx="338.0" cy="272.5" r="0.76" fill="#9aa4c8"/><circle cx="288.5" cy="275.6" r="0.74" fill="#9aa4c8"/><circle cx="290.4" cy="275.2" r="0.93" fill="#9aa4c8"/><circle cx="294.0" cy="276.1" r="0.85" fill="#9aa4c8"/><circle cx="296.4" cy="275.6" r="0.83" fill="#9aa4c8"/><circle cx="299.3" cy="276.0" r="0.95" fill="#9aa4c8"/><circle cx="302.0" cy="275.8" r="0.75" fill="#9aa4c8"/><circle cx="304.4" cy="275.5" r="0.83" fill="#9aa4c8"/><circle cx="307.3" cy="274.9" r="0.85" fill="#9aa4c8"/><circle cx="311.7" cy="276.2" r="0.71" fill="#9aa4c8"/><circle cx="313.6" cy="275.4" r="0.81" fill="#9aa4c8"/><circle cx="316.1" cy="275.8" r="0.99" fill="#9aa4c8"/><circle cx="319.5" cy="275.1" r="0.74" fill="#9aa4c8"/><circle cx="321.7" cy="276.1" r="0.78" fill="#9aa4c8"/><circle cx="325.9" cy="276.2" r="0.73" fill="#9aa4c8"/><circle cx="327.8" cy="275.3" r="0.97" fill="#9aa4c8"/><circle cx="331.7" cy="275.3" r="0.86" fill="#9aa4c8"/><circle cx="333.9" cy="275.6" r="0.98" fill="#9aa4c8"/><circle cx="336.7" cy="276.2" r="1.02" fill="#9aa4c8"/><circle cx="286.5" cy="279.0" r="1.03" fill="#9aa4c8"/><circle cx="288.6" cy="279.0" r="0.77" fill="#9aa4c8"/><circle cx="292.7" cy="277.5" r="0.81" fill="#9aa4c8"/><circle cx="294.9" cy="278.8" r="0.94" fill="#9aa4c8"/><circle cx="297.4" cy="278.9" r="1.00" fill="#9aa4c8"/><circle cx="300.8" cy="277.4" r="0.80" fill="#9aa4c8"/><circle cx="303.4" cy="278.0" r="1.03" fill="#9aa4c8"/><circle cx="306.8" cy="278.7" r="0.72" fill="#9aa4c8"/><circle cx="309.1" cy="278.6" r="0.82" fill="#9aa4c8"/><circle cx="311.9" cy="277.4" r="0.72" fill="#9aa4c8"/><circle cx="315.2" cy="278.3" r="0.84" fill="#9aa4c8"/><circle cx="318.3" cy="277.8" r="0.71" fill="#9aa4c8"/><circle cx="321.4" cy="277.9" r="0.87" fill="#9aa4c8"/><circle cx="323.8" cy="277.8" r="0.72" fill="#9aa4c8"/><circle cx="326.6" cy="277.8" r="0.74" fill="#9aa4c8"/><circle cx="329.0" cy="278.1" r="0.71" fill="#9aa4c8"/><circle cx="333.4" cy="277.9" r="0.86" fill="#9aa4c8"/><circle cx="335.7" cy="277.3" r="0.74" fill="#9aa4c8"/><circle cx="284.9" cy="280.4" r="0.96" fill="#9aa4c8"/><circle cx="287.8" cy="281.2" r="0.99" fill="#9aa4c8"/><circle cx="291.4" cy="281.1" r="0.94" fill="#9aa4c8"/><circle cx="293.5" cy="280.8" r="0.90" fill="#9aa4c8"/><circle cx="296.5" cy="281.3" r="1.00" fill="#9aa4c8"/><circle cx="298.6" cy="281.1" r="0.92" fill="#9aa4c8"/><circle cx="302.4" cy="281.4" r="0.72" fill="#9aa4c8"/><circle cx="305.1" cy="280.5" r="1.03" fill="#9aa4c8"/><circle cx="307.5" cy="280.8" r="0.75" fill="#9aa4c8"/><circle cx="311.4" cy="280.7" r="0.96" fill="#9aa4c8"/><circle cx="313.5" cy="281.4" r="0.70" fill="#9aa4c8"/><circle cx="316.3" cy="281.1" r="1.01" fill="#9aa4c8"/><circle cx="320.2" cy="280.3" r="0.73" fill="#9aa4c8"/><circle cx="322.9" cy="281.1" r="0.72" fill="#9aa4c8"/><circle cx="326.2" cy="280.7" r="0.71" fill="#9aa4c8"/><circle cx="328.3" cy="280.4" r="0.74" fill="#9aa4c8"/><circle cx="331.9" cy="281.5" r="0.74" fill="#9aa4c8"/><circle cx="334.1" cy="280.3" r="0.94" fill="#9aa4c8"/><circle cx="336.4" cy="280.4" r="0.84" fill="#9aa4c8"/><circle cx="286.3" cy="283.1" r="0.91" fill="#9aa4c8"/><circle cx="290.0" cy="284.0" r="1.02" fill="#9aa4c8"/><circle cx="292.7" cy="282.7" r="0.79" fill="#9aa4c8"/><circle cx="294.9" cy="283.5" r="0.91" fill="#9aa4c8"/><circle cx="297.7" cy="284.1" r="0.81" fill="#9aa4c8"/><circle cx="300.0" cy="282.5" r="0.77" fill="#9aa4c8"/><circle cx="304.1" cy="283.8" r="0.71" fill="#9aa4c8"/><circle cx="306.2" cy="282.8" r="0.98" fill="#9aa4c8"/><circle cx="310.2" cy="282.8" r="0.74" fill="#9aa4c8"/><circle cx="313.2" cy="284.0" r="0.95" fill="#9aa4c8"/><circle cx="315.3" cy="283.7" r="0.97" fill="#9aa4c8"/><circle cx="318.2" cy="282.8" r="0.88" fill="#9aa4c8"/><circle cx="321.4" cy="282.9" r="0.92" fill="#9aa4c8"/><circle cx="323.4" cy="284.0" r="0.77" fill="#9aa4c8"/><circle cx="326.4" cy="284.0" r="1.03" fill="#9aa4c8"/><circle cx="330.6" cy="283.8" r="1.00" fill="#9aa4c8"/><circle cx="333.3" cy="283.3" r="0.73" fill="#9aa4c8"/><circle cx="336.0" cy="283.8" r="0.99" fill="#9aa4c8"/><circle cx="337.7" cy="282.5" r="0.96" fill="#9aa4c8"/><circle cx="284.8" cy="286.4" r="1.05" fill="#9aa4c8"/><circle cx="287.7" cy="286.0" r="0.93" fill="#9aa4c8"/><circle cx="291.0" cy="285.5" r="0.92" fill="#9aa4c8"/><circle cx="292.8" cy="286.4" r="0.95" fill="#9aa4c8"/><circle cx="297.0" cy="285.7" r="0.77" fill="#9aa4c8"/><circle cx="299.3" cy="286.1" r="0.89" fill="#9aa4c8"/><circle cx="301.6" cy="284.9" r="0.84" fill="#9aa4c8"/><circle cx="304.7" cy="285.3" r="0.78" fill="#9aa4c8"/><circle cx="307.9" cy="286.1" r="1.02" fill="#9aa4c8"/><circle cx="311.3" cy="284.9" r="1.00" fill="#9aa4c8"/><circle cx="314.1" cy="286.1" r="0.91" fill="#9aa4c8"/><circle cx="316.5" cy="285.5" r="0.72" fill="#9aa4c8"/><circle cx="320.0" cy="285.0" r="0.94" fill="#9aa4c8"/><circle cx="323.3" cy="286.0" r="0.91" fill="#9aa4c8"/><circle cx="326.0" cy="286.5" r="0.98" fill="#9aa4c8"/><circle cx="329.2" cy="285.7" r="0.71" fill="#9aa4c8"/><circle cx="331.5" cy="286.0" r="1.00" fill="#9aa4c8"/><circle cx="334.4" cy="285.5" r="0.70" fill="#9aa4c8"/><circle cx="337.6" cy="286.0" r="1.04" fill="#9aa4c8"/><circle cx="286.5" cy="288.9" r="0.97" fill="#9aa4c8"/><circle cx="290.1" cy="288.2" r="1.01" fill="#9aa4c8"/><circle cx="291.9" cy="287.4" r="0.81" fill="#9aa4c8"/><circle cx="294.8" cy="289.1" r="0.84" fill="#9aa4c8"/><circle cx="297.5" cy="288.6" r="0.73" fill="#9aa4c8"/><circle cx="300.5" cy="288.1" r="0.74" fill="#9aa4c8"/><circle cx="303.9" cy="288.1" r="0.98" fill="#9aa4c8"/><circle cx="306.3" cy="289.1" r="0.77" fill="#9aa4c8"/><circle cx="309.6" cy="287.8" r="0.70" fill="#9aa4c8"/><circle cx="312.1" cy="289.0" r="0.80" fill="#9aa4c8"/><circle cx="315.3" cy="288.3" r="0.79" fill="#9aa4c8"/><circle cx="318.3" cy="287.5" r="0.82" fill="#9aa4c8"/><circle cx="320.7" cy="288.8" r="0.97" fill="#9aa4c8"/><circle cx="324.4" cy="288.4" r="1.00" fill="#9aa4c8"/><circle cx="327.3" cy="287.5" r="0.75" fill="#9aa4c8"/><circle cx="330.3" cy="288.9" r="1.05" fill="#9aa4c8"/><circle cx="333.2" cy="287.7" r="0.90" fill="#9aa4c8"/><circle cx="335.8" cy="288.4" r="0.75" fill="#9aa4c8"/><circle cx="287.6" cy="290.0" r="0.93" fill="#9aa4c8"/><circle cx="290.3" cy="290.3" r="0.81" fill="#9aa4c8"/><circle cx="293.8" cy="290.5" r="0.93" fill="#9aa4c8"/><circle cx="297.2" cy="291.6" r="1.01" fill="#9aa4c8"/><circle cx="300.1" cy="290.4" r="0.99" fill="#9aa4c8"/><circle cx="301.6" cy="290.9" r="0.73" fill="#9aa4c8"/><circle cx="304.5" cy="291.6" r="0.74" fill="#9aa4c8"/><circle cx="308.4" cy="290.8" r="0.70" fill="#9aa4c8"/><circle cx="311.5" cy="290.0" r="1.01" fill="#9aa4c8"/><circle cx="314.4" cy="290.8" r="0.86" fill="#9aa4c8"/><circle cx="315.9" cy="291.1" r="0.71" fill="#9aa4c8"/><circle cx="319.7" cy="291.5" r="0.94" fill="#9aa4c8"/><circle cx="321.9" cy="291.2" r="0.95" fill="#9aa4c8"/><circle cx="325.2" cy="291.3" r="0.90" fill="#9aa4c8"/><circle cx="328.2" cy="290.8" r="0.80" fill="#9aa4c8"/><circle cx="330.9" cy="291.5" r="0.82" fill="#9aa4c8"/><circle cx="334.6" cy="290.6" r="0.77" fill="#9aa4c8"/><circle cx="336.2" cy="291.6" r="0.96" fill="#9aa4c8"/><circle cx="287.2" cy="293.5" r="0.72" fill="#9aa4c8"/><circle cx="288.6" cy="292.5" r="0.91" fill="#9aa4c8"/><circle cx="292.3" cy="294.1" r="0.80" fill="#9aa4c8"/><circle cx="294.6" cy="292.8" r="0.75" fill="#9aa4c8"/><circle cx="297.1" cy="293.3" r="0.85" fill="#9aa4c8"/><circle cx="300.6" cy="294.1" r="0.81" fill="#9aa4c8"/><circle cx="304.3" cy="293.4" r="0.74" fill="#9aa4c8"/><circle cx="305.8" cy="293.5" r="1.01" fill="#9aa4c8"/><circle cx="308.7" cy="293.7" r="0.78" fill="#9aa4c8"/><circle cx="312.7" cy="293.9" r="0.95" fill="#9aa4c8"/><circle cx="314.9" cy="292.7" r="1.04" fill="#9aa4c8"/><circle cx="318.9" cy="294.0" r="0.89" fill="#9aa4c8"/><circle cx="320.3" cy="293.1" r="1.02" fill="#9aa4c8"/><circle cx="323.3" cy="293.0" r="0.71" fill="#9aa4c8"/><circle cx="327.6" cy="293.1" r="0.73" fill="#9aa4c8"/><circle cx="329.6" cy="292.8" r="0.85" fill="#9aa4c8"/><circle cx="332.9" cy="293.6" r="0.73" fill="#9aa4c8"/><circle cx="335.7" cy="292.5" r="0.85" fill="#9aa4c8"/><circle cx="285.4" cy="295.4" r="0.84" fill="#9aa4c8"/><circle cx="288.3" cy="295.0" r="0.89" fill="#9aa4c8"/><circle cx="290.7" cy="296.2" r="1.03" fill="#9aa4c8"/><circle cx="293.9" cy="295.4" r="0.77" fill="#9aa4c8"/><circle cx="296.4" cy="295.5" r="0.89" fill="#9aa4c8"/><circle cx="298.7" cy="296.2" r="0.85" fill="#9aa4c8"/><circle cx="301.5" cy="295.2" r="1.03" fill="#9aa4c8"/><circle cx="305.8" cy="296.5" r="0.84" fill="#9aa4c8"/><circle cx="308.9" cy="295.3" r="0.95" fill="#9aa4c8"/><circle cx="311.7" cy="295.3" r="0.70" fill="#9aa4c8"/><circle cx="313.2" cy="295.1" r="0.98" fill="#9aa4c8"/><circle cx="317.0" cy="295.8" r="0.74" fill="#9aa4c8"/><circle cx="319.9" cy="295.2" r="0.75" fill="#9aa4c8"/><circle cx="322.7" cy="296.1" r="0.98" fill="#9aa4c8"/><circle cx="326.0" cy="295.2" r="0.81" fill="#9aa4c8"/><circle cx="327.8" cy="295.8" r="0.71" fill="#9aa4c8"/><circle cx="331.9" cy="296.2" r="0.98" fill="#9aa4c8"/><circle cx="334.1" cy="296.6" r="0.99" fill="#9aa4c8"/><circle cx="337.6" cy="296.4" r="0.78" fill="#9aa4c8"/><circle cx="286.1" cy="297.6" r="0.97" fill="#9aa4c8"/><circle cx="289.2" cy="299.2" r="0.80" fill="#9aa4c8"/><circle cx="292.0" cy="299.0" r="1.04" fill="#9aa4c8"/><circle cx="295.5" cy="299.0" r="1.02" fill="#9aa4c8"/><circle cx="297.5" cy="298.6" r="0.72" fill="#9aa4c8"/><circle cx="301.1" cy="299.1" r="0.88" fill="#9aa4c8"/><circle cx="303.1" cy="298.5" r="0.72" fill="#9aa4c8"/><circle cx="306.6" cy="297.6" r="0.85" fill="#9aa4c8"/><circle cx="310.1" cy="298.8" r="1.00" fill="#9aa4c8"/><circle cx="312.3" cy="298.3" r="0.72" fill="#9aa4c8"/><circle cx="315.8" cy="298.5" r="0.84" fill="#9aa4c8"/><circle cx="317.6" cy="298.3" r="0.72" fill="#9aa4c8"/><circle cx="320.5" cy="297.6" r="0.85" fill="#9aa4c8"/><circle cx="323.4" cy="298.9" r="0.91" fill="#9aa4c8"/><circle cx="327.6" cy="298.5" r="0.76" fill="#9aa4c8"/><circle cx="329.4" cy="298.9" r="0.90" fill="#9aa4c8"/><circle cx="333.0" cy="298.6" r="0.72" fill="#9aa4c8"/><circle cx="335.1" cy="298.2" r="1.00" fill="#9aa4c8"/></g>
<line x1="384.50" y1="178.20" x2="384.50" y2="249.05" stroke="#231f20" stroke-width="1.0"/>
<line x1="381.20" y1="248.50" x2="384.50" y2="248.50" stroke="#231f20" stroke-width="0.8"/>
<text x="375.10" y="250.56" font-size="6.0" text-anchor="start" fill="#231f20" textLength="3.20" lengthAdjust="spacingAndGlyphs" stroke="#231f20" stroke-width="0.05">0</text>
<line x1="381.20" y1="241.75" x2="384.50" y2="241.75" stroke="#231f20" stroke-width="0.8"/>
<text x="372.10" y="243.81" font-size="6.0" text-anchor="start" fill="#231f20" textLength="6.20" lengthAdjust="spacingAndGlyphs" stroke="#231f20" stroke-width="0.05">10</text>
<line x1="381.20" y1="235.00" x2="384.50" y2="235.00" stroke="#231f20" stroke-width="0.8"/>
<text x="372.10" y="237.06" font-size="6.0" text-anchor="start" fill="#231f20" textLength="6.20" lengthAdjust="spacingAndGlyphs" stroke="#231f20" stroke-width="0.05">20</text>
<line x1="381.20" y1="228.25" x2="384.50" y2="228.25" stroke="#231f20" stroke-width="0.8"/>
<text x="372.10" y="230.31" font-size="6.0" text-anchor="start" fill="#231f20" textLength="6.20" lengthAdjust="spacingAndGlyphs" stroke="#231f20" stroke-width="0.05">30</text>
<line x1="381.20" y1="221.50" x2="384.50" y2="221.50" stroke="#231f20" stroke-width="0.8"/>
<text x="372.10" y="223.56" font-size="6.0" text-anchor="start" fill="#231f20" textLength="6.20" lengthAdjust="spacingAndGlyphs" stroke="#231f20" stroke-width="0.05">40</text>
<line x1="381.20" y1="214.75" x2="384.50" y2="214.75" stroke="#231f20" stroke-width="0.8"/>
<text x="372.10" y="216.81" font-size="6.0" text-anchor="start" fill="#231f20" textLength="6.20" lengthAdjust="spacingAndGlyphs" stroke="#231f20" stroke-width="0.05">50</text>
<line x1="381.20" y1="208.00" x2="384.50" y2="208.00" stroke="#231f20" stroke-width="0.8"/>
<text x="372.10" y="210.06" font-size="6.0" text-anchor="start" fill="#231f20" textLength="6.20" lengthAdjust="spacingAndGlyphs" stroke="#231f20" stroke-width="0.05">60</text>
<line x1="381.20" y1="201.25" x2="384.50" y2="201.25" stroke="#231f20" stroke-width="0.8"/>
<text x="372.10" y="203.31" font-size="6.0" text-anchor="start" fill="#231f20" textLength="6.20" lengthAdjust="spacingAndGlyphs" stroke="#231f20" stroke-width="0.05">70</text>
<line x1="381.20" y1="194.50" x2="384.50" y2="194.50" stroke="#231f20" stroke-width="0.8"/>
<text x="372.10" y="196.56" font-size="6.0" text-anchor="start" fill="#231f20" textLength="6.20" lengthAdjust="spacingAndGlyphs" stroke="#231f20" stroke-width="0.05">80</text>
<line x1="381.20" y1="187.75" x2="384.50" y2="187.75" stroke="#231f20" stroke-width="0.8"/>
<text x="372.10" y="189.81" font-size="6.0" text-anchor="start" fill="#231f20" textLength="6.20" lengthAdjust="spacingAndGlyphs" stroke="#231f20" stroke-width="0.05">90</text>
<line x1="381.20" y1="181.00" x2="384.50" y2="181.00" stroke="#231f20" stroke-width="0.8"/>
<text x="369.20" y="183.06" font-size="6.0" text-anchor="start" fill="#231f20" textLength="9.10" lengthAdjust="spacingAndGlyphs" stroke="#231f20" stroke-width="0.05">100</text>
<rect x="393.00" y="181.00" width="9.90" height="67.50" fill="#a4a8c9"/>
<rect x="393.00" y="181.00" width="9.90" height="62.70" fill="#727ea3"/>
<rect x="393.00" y="181.00" width="9.90" height="54.40" fill="#4a608a"/>
<rect x="426.30" y="181.00" width="9.90" height="67.50" fill="#a4a8c9"/>
<rect x="426.30" y="181.00" width="9.90" height="46.80" fill="#727ea3"/>
<rect x="426.30" y="181.00" width="9.90" height="39.60" fill="#4a608a"/>
<line x1="384.50" y1="248.55" x2="444.80" y2="248.55" stroke="#231f20" stroke-width="1.0"/>
<line x1="398.00" y1="248.55" x2="398.00" y2="251.05" stroke="#231f20" stroke-width="0.8"/>
<line x1="431.50" y1="248.55" x2="431.50" y2="251.05" stroke="#231f20" stroke-width="0.8"/>
<text x="393.00" y="166.70" font-size="6.1" text-anchor="start" fill="#231f20" textLength="43.10" lengthAdjust="spacingAndGlyphs" stroke="#231f20" stroke-width="0.14">HLA I Expression</text>
<text transform="translate(362.90,240.30) rotate(-90)" font-size="8.4" text-anchor="start" fill="#231f20" textLength="53.30" lengthAdjust="spacingAndGlyphs" stroke="#231f20" stroke-width="0.04">% of total cases</text>
<rect x="447.20" y="205.20" width="4.30" height="4.20" fill="#4a608a"/>
<text x="454.80" y="209.40" font-size="6.4" text-anchor="start" fill="#231f20" textLength="19.80" lengthAdjust="spacingAndGlyphs" stroke="#231f20" stroke-width="0.14">Positive</text>
<rect x="447.20" y="211.40" width="4.30" height="4.20" fill="#727ea3"/>
<text x="454.80" y="215.60" font-size="6.4" text-anchor="start" fill="#231f20" textLength="22.40" lengthAdjust="spacingAndGlyphs" stroke="#231f20" stroke-width="0.14">Reduced</text>
<rect x="447.20" y="217.50" width="4.30" height="4.20" fill="#a4a8c9"/>
<text x="454.80" y="221.70" font-size="6.4" text-anchor="start" fill="#231f20" textLength="23.30" lengthAdjust="spacingAndGlyphs" stroke="#231f20" stroke-width="0.14">Negative</text>
<text x="382.80" y="260.84" font-size="6.8" text-anchor="start" fill="#231f20" textLength="29.60" lengthAdjust="spacingAndGlyphs" stroke="#231f20" stroke-width="0.14">Not altered</text>
<text x="422.20" y="260.84" font-size="6.8" text-anchor="start" fill="#231f20" textLength="18.50" lengthAdjust="spacingAndGlyphs" stroke="#231f20" stroke-width="0.14">Altered</text>
<line x1="397.30" y1="179.40" x2="431.90" y2="179.40" stroke="#444446" stroke-width="1.2"/>
<ellipse cx="414.80" cy="176.20" rx="0.75" ry="0.95" fill="#3a3a3a"/>
<line x1="386.55" y1="290.40" x2="386.55" y2="359.75" stroke="#231f20" stroke-width="1.0"/>
<line x1="383.25" y1="359.20" x2="386.55" y2="359.20" stroke="#231f20" stroke-width="0.8"/>
<text x="377.60" y="361.26" font-size="6.0" text-anchor="start" fill="#231f20" textLength="3.20" lengthAdjust="spacingAndGlyphs" stroke="#231f20" stroke-width="0.05">0</text>
<line x1="383.25" y1="352.59" x2="386.55" y2="352.59" stroke="#231f20" stroke-width="0.8"/>
<text x="374.60" y="354.65" font-size="6.0" text-anchor="start" fill="#231f20" textLength="6.20" lengthAdjust="spacingAndGlyphs" stroke="#231f20" stroke-width="0.05">10</text>
<line x1="383.25" y1="345.98" x2="386.55" y2="345.98" stroke="#231f20" stroke-width="0.8"/>
<text x="374.60" y="348.04" font-size="6.0" text-anchor="start" fill="#231f20" textLength="6.20" lengthAdjust="spacingAndGlyphs" stroke="#231f20" stroke-width="0.05">20</text>
<line x1="383.25" y1="339.37" x2="386.55" y2="339.37" stroke="#231f20" stroke-width="0.8"/>
<text x="374.60" y="341.43" font-size="6.0" text-anchor="start" fill="#231f20" textLength="6.20" lengthAdjust="spacingAndGlyphs" stroke="#231f20" stroke-width="0.05">30</text>
<line x1="383.25" y1="332.76" x2="386.55" y2="332.76" stroke="#231f20" stroke-width="0.8"/>
<text x="374.60" y="334.82" font-size="6.0" text-anchor="start" fill="#231f20" textLength="6.20" lengthAdjust="spacingAndGlyphs" stroke="#231f20" stroke-width="0.05">40</text>
<line x1="383.25" y1="326.15" x2="386.55" y2="326.15" stroke="#231f20" stroke-width="0.8"/>
<text x="374.60" y="328.21" font-size="6.0" text-anchor="start" fill="#231f20" textLength="6.20" lengthAdjust="spacingAndGlyphs" stroke="#231f20" stroke-width="0.05">50</text>
<line x1="383.25" y1="319.54" x2="386.55" y2="319.54" stroke="#231f20" stroke-width="0.8"/>
<text x="374.60" y="321.60" font-size="6.0" text-anchor="start" fill="#231f20" textLength="6.20" lengthAdjust="spacingAndGlyphs" stroke="#231f20" stroke-width="0.05">60</text>
<line x1="383.25" y1="312.93" x2="386.55" y2="312.93" stroke="#231f20" stroke-width="0.8"/>
<text x="374.60" y="314.99" font-size="6.0" text-anchor="start" fill="#231f20" textLength="6.20" lengthAdjust="spacingAndGlyphs" stroke="#231f20" stroke-width="0.05">70</text>
<line x1="383.25" y1="306.32" x2="386.55" y2="306.32" stroke="#231f20" stroke-width="0.8"/>
<text x="374.60" y="308.38" font-size="6.0" text-anchor="start" fill="#231f20" textLength="6.20" lengthAdjust="spacingAndGlyphs" stroke="#231f20" stroke-width="0.05">80</text>
<line x1="383.25" y1="299.71" x2="386.55" y2="299.71" stroke="#231f20" stroke-width="0.8"/>
<text x="374.60" y="301.77" font-size="6.0" text-anchor="start" fill="#231f20" textLength="6.20" lengthAdjust="spacingAndGlyphs" stroke="#231f20" stroke-width="0.05">90</text>
<line x1="383.25" y1="293.10" x2="386.55" y2="293.10" stroke="#231f20" stroke-width="0.8"/>
<text x="371.70" y="295.16" font-size="6.0" text-anchor="start" fill="#231f20" textLength="9.10" lengthAdjust="spacingAndGlyphs" stroke="#231f20" stroke-width="0.05">100</text>
<rect x="394.90" y="293.10" width="9.90" height="66.10" fill="#a4a8c9"/>
<rect x="394.90" y="293.10" width="9.90" height="55.80" fill="#727ea3"/>
<rect x="394.90" y="293.10" width="9.90" height="49.20" fill="#4a608a"/>
<rect x="427.90" y="293.10" width="9.90" height="66.10" fill="#a4a8c9"/>
<rect x="427.90" y="293.10" width="9.90" height="47.70" fill="#727ea3"/>
<rect x="427.90" y="293.10" width="9.90" height="29.60" fill="#4a608a"/>
<line x1="386.55" y1="359.25" x2="446.40" y2="359.25" stroke="#231f20" stroke-width="1.0"/>
<line x1="400.00" y1="359.25" x2="400.00" y2="361.75" stroke="#231f20" stroke-width="0.8"/>
<line x1="432.60" y1="359.25" x2="432.60" y2="361.75" stroke="#231f20" stroke-width="0.8"/>
<text x="394.20" y="280.30" font-size="6.1" text-anchor="start" fill="#231f20" textLength="45.00" lengthAdjust="spacingAndGlyphs" stroke="#231f20" stroke-width="0.14">HLA II Expression</text>
<text transform="translate(364.70,352.00) rotate(-90)" font-size="8.4" text-anchor="start" fill="#231f20" textLength="54.10" lengthAdjust="spacingAndGlyphs" stroke="#231f20" stroke-width="0.04">% of total cases</text>
<rect x="447.20" y="317.50" width="4.30" height="4.20" fill="#4a608a"/>
<text x="454.80" y="321.70" font-size="6.4" text-anchor="start" fill="#231f20" textLength="19.80" lengthAdjust="spacingAndGlyphs" stroke="#231f20" stroke-width="0.14">Positive</text>
<rect x="447.20" y="323.70" width="4.30" height="4.20" fill="#727ea3"/>
<text x="454.80" y="327.90" font-size="6.4" text-anchor="start" fill="#231f20" textLength="22.40" lengthAdjust="spacingAndGlyphs" stroke="#231f20" stroke-width="0.14">Reduced</text>
<rect x="447.20" y="330.00" width="4.30" height="4.20" fill="#a4a8c9"/>
<text x="454.80" y="334.20" font-size="6.4" text-anchor="start" fill="#231f20" textLength="23.30" lengthAdjust="spacingAndGlyphs" stroke="#231f20" stroke-width="0.14">Negative</text>
<text x="385.20" y="371.04" font-size="6.8" text-anchor="start" fill="#231f20" textLength="29.40" lengthAdjust="spacingAndGlyphs" stroke="#231f20" stroke-width="0.14">Not altered</text>
<text x="423.30" y="371.04" font-size="6.8" text-anchor="start" fill="#231f20" textLength="18.60" lengthAdjust="spacingAndGlyphs" stroke="#231f20" stroke-width="0.14">Altered</text>
<rect x="0" y="0" width="520" height="1" fill="#111"/>
<rect x="518.8" y="0" width="1.2" height="378" fill="#111"/>
<rect x="0" y="0" width="1.6" height="378" fill="#444"/>
<rect x="0" y="376" width="520" height="2" fill="#444"/>
</svg>
</body></html>
